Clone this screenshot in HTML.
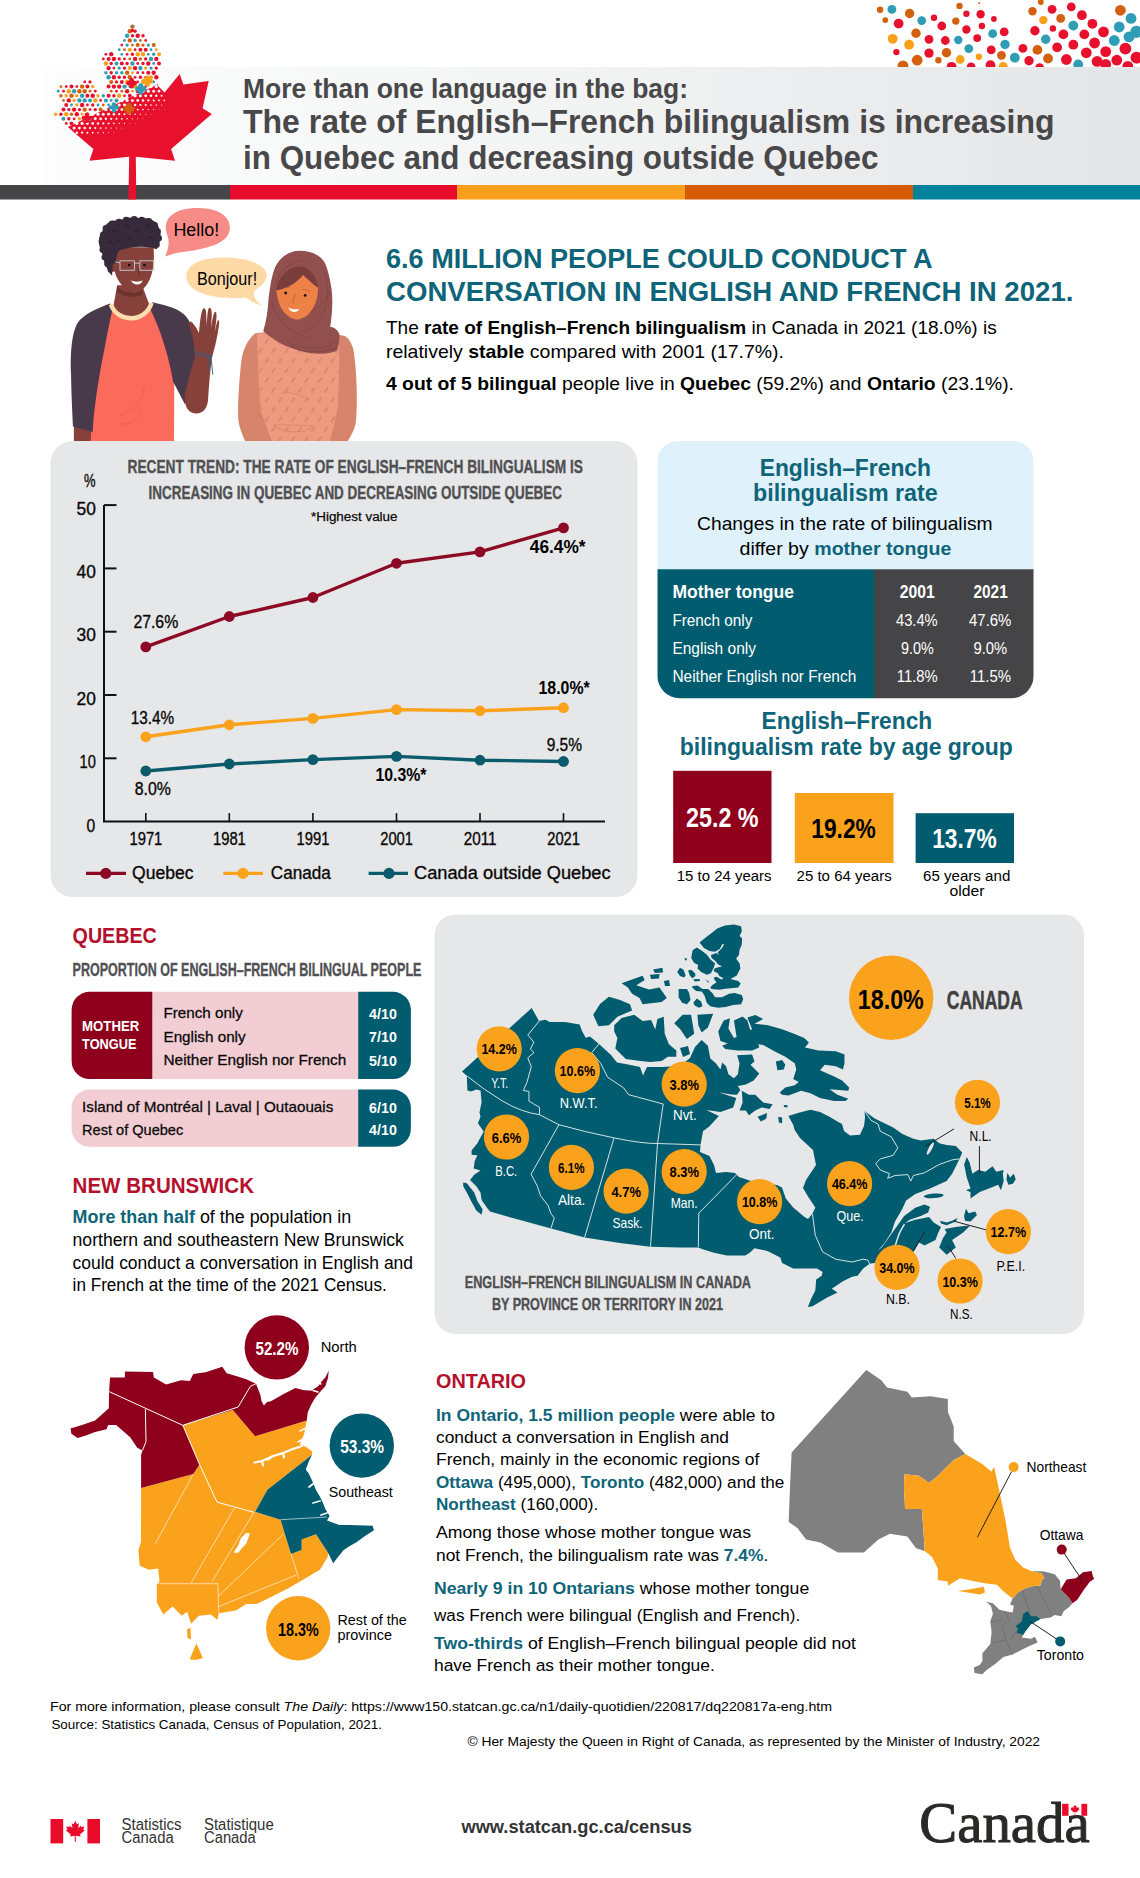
<!DOCTYPE html>
<html lang="en"><head><meta charset="utf-8"><title>More than one language in the bag</title>
<style>
html,body{margin:0;padding:0;background:#fff}
svg{display:block;font-family:"Liberation Sans",sans-serif}
text{white-space:pre}
</style></head><body>
<svg width="1140" height="1878" viewBox="0 0 1140 1878">
<rect width="1140" height="1878" fill="#fff"/>
<!-- p01_header -->
<circle cx="880.1" cy="9.8" r="3.2" fill="#d2600f"/><circle cx="891.9" cy="9.3" r="4.4" fill="#2f9db5"/><circle cx="909.6" cy="13.5" r="4.7" fill="#d2600f"/><circle cx="885.3" cy="20.1" r="2.9" fill="#d2600f"/><circle cx="898.6" cy="23.6" r="4.9" fill="#e8112d"/><circle cx="921.7" cy="20.6" r="4.4" fill="#2f9db5"/><circle cx="934.0" cy="17.7" r="3.2" fill="#e8112d"/><circle cx="959.5" cy="5.9" r="3.2" fill="#d2600f"/><circle cx="966.4" cy="13.8" r="3.2" fill="#e8112d"/><circle cx="955.8" cy="21.1" r="3.7" fill="#d2600f"/><circle cx="941.8" cy="26.0" r="4.4" fill="#e8112d"/><circle cx="980.6" cy="14.3" r="4.2" fill="#e8112d"/><circle cx="993.9" cy="18.9" r="2.9" fill="#e8112d"/><circle cx="981.9" cy="26.0" r="3.2" fill="#e8112d"/><circle cx="966.4" cy="29.5" r="4.2" fill="#e8112d"/><circle cx="916.0" cy="33.2" r="4.7" fill="#d2600f"/><circle cx="892.7" cy="38.8" r="4.9" fill="#f9a01b"/><circle cx="909.1" cy="44.7" r="4.9" fill="#f9a01b"/><circle cx="929.0" cy="39.3" r="4.4" fill="#e8112d"/><circle cx="945.3" cy="40.5" r="4.4" fill="#e8112d"/><circle cx="958.3" cy="40.0" r="4.2" fill="#2f9db5"/><circle cx="977.2" cy="38.1" r="3.9" fill="#e8112d"/><circle cx="992.7" cy="33.7" r="4.4" fill="#2f9db5"/><circle cx="1004.2" cy="31.9" r="4.4" fill="#e8112d"/><circle cx="1005.0" cy="44.5" r="4.7" fill="#2f9db5"/><circle cx="896.4" cy="52.1" r="3.2" fill="#e8112d"/><circle cx="929.0" cy="53.1" r="4.7" fill="#e8112d"/><circle cx="946.5" cy="52.8" r="4.7" fill="#d2600f"/><circle cx="968.8" cy="48.6" r="4.4" fill="#2f9db5"/><circle cx="991.2" cy="49.9" r="4.4" fill="#e8112d"/><circle cx="978.9" cy="56.8" r="3.2" fill="#f9a01b"/><circle cx="1001.5" cy="55.3" r="4.4" fill="#d2600f"/><circle cx="917.2" cy="60.2" r="5.4" fill="#d2600f"/><circle cx="938.4" cy="60.2" r="3.2" fill="#d2600f"/><circle cx="960.2" cy="59.5" r="4.4" fill="#f9a01b"/><circle cx="903.0" cy="65.8" r="5.4" fill="#d2600f"/><circle cx="951.6" cy="66.8" r="4.9" fill="#e8112d"/><circle cx="971.1" cy="66.8" r="4.4" fill="#e8112d"/><circle cx="990.5" cy="65.1" r="4.9" fill="#e8112d"/><circle cx="1003.2" cy="66.3" r="4.4" fill="#f9a01b"/><circle cx="1014.8" cy="57.7" r="4.9" fill="#2f9db5"/><circle cx="1022.9" cy="48.4" r="4.4" fill="#e8112d"/><circle cx="1029.0" cy="60.7" r="4.7" fill="#e8112d"/><circle cx="1037.4" cy="49.9" r="4.9" fill="#d2600f"/><circle cx="1048.0" cy="58.5" r="4.9" fill="#d2600f"/><circle cx="1039.6" cy="67.6" r="4.4" fill="#e8112d"/><circle cx="1040.8" cy="2.0" r="2.9" fill="#d2600f"/><circle cx="1032.5" cy="11.3" r="4.2" fill="#d2600f"/><circle cx="1052.1" cy="9.3" r="4.4" fill="#e8112d"/><circle cx="1071.3" cy="6.9" r="4.4" fill="#e8112d"/><circle cx="1043.3" cy="20.1" r="4.2" fill="#f9a01b"/><circle cx="1060.7" cy="18.4" r="4.4" fill="#d2600f"/><circle cx="1081.9" cy="15.2" r="4.9" fill="#e8112d"/><circle cx="1034.9" cy="30.7" r="4.7" fill="#e8112d"/><circle cx="1052.9" cy="28.5" r="3.2" fill="#e8112d"/><circle cx="1073.3" cy="25.6" r="4.9" fill="#2f9db5"/><circle cx="1092.4" cy="23.8" r="4.9" fill="#e8112d"/><circle cx="1063.4" cy="34.4" r="4.9" fill="#e8112d"/><circle cx="1045.7" cy="39.3" r="4.7" fill="#2f9db5"/><circle cx="1084.3" cy="34.4" r="4.9" fill="#e8112d"/><circle cx="1103.5" cy="31.9" r="5.4" fill="#e8112d"/><circle cx="1057.1" cy="47.4" r="4.9" fill="#e8112d"/><circle cx="1073.3" cy="44.7" r="4.9" fill="#e8112d"/><circle cx="1094.6" cy="43.0" r="5.4" fill="#e8112d"/><circle cx="1086.3" cy="52.8" r="5.4" fill="#e8112d"/><circle cx="1066.4" cy="59.5" r="5.4" fill="#e8112d"/><circle cx="1078.2" cy="64.4" r="4.9" fill="#2f9db5"/><circle cx="1105.7" cy="51.6" r="5.4" fill="#e8112d"/><circle cx="1097.1" cy="61.4" r="5.4" fill="#e8112d"/><circle cx="1116.8" cy="60.2" r="5.4" fill="#e8112d"/><circle cx="1105.7" cy="64.4" r="5.4" fill="#e8112d"/><circle cx="1120.4" cy="10.3" r="5.4" fill="#d2600f"/><circle cx="1131.0" cy="18.4" r="5.4" fill="#2f9db5"/><circle cx="1119.2" cy="27.0" r="5.4" fill="#2f9db5"/><circle cx="1136.4" cy="31.9" r="6.1" fill="#2f9db5"/><circle cx="1114.3" cy="40.5" r="5.4" fill="#2f9db5"/><circle cx="1129.0" cy="36.9" r="5.4" fill="#2f9db5"/><circle cx="1125.4" cy="48.6" r="5.9" fill="#e8112d"/><circle cx="1136.4" cy="57.7" r="5.9" fill="#e8112d"/><circle cx="1127.8" cy="66.3" r="5.4" fill="#e8112d"/><circle cx="979.2" cy="2.9" r="1.0" fill="#d2600f"/>
<defs><linearGradient id="bandg" x1="0" x2="1" y1="0" y2="0"><stop offset="0" stop-color="#fdfdfd"/><stop offset="0.45" stop-color="#f3f4f4"/><stop offset="1" stop-color="#e4e5e6"/></linearGradient></defs>
<rect x="43" y="67" width="1097" height="119" fill="url(#bandg)"/>
<rect x="0" y="185" width="230" height="14.5" fill="#454547"/><rect x="230" y="185" width="227" height="14.5" fill="#e80c2c"/><rect x="457" y="185" width="228" height="14.5" fill="#fa9f1c"/><rect x="685" y="185" width="228" height="14.5" fill="#d55b05"/><rect x="913" y="185" width="227" height="14.5" fill="#00819c"/>
<text x="243.0" y="98.0" font-size="28" font-weight="bold" fill="#48484a" textLength="445.0" lengthAdjust="spacingAndGlyphs">More than one language in the bag:</text>
<text x="243.0" y="133.4" font-size="33.5" font-weight="bold" fill="#48484a" textLength="811.5" lengthAdjust="spacingAndGlyphs">The rate of English–French bilingualism is increasing</text>
<text x="243.0" y="169.0" font-size="33.5" font-weight="bold" fill="#48484a" textLength="635.5" lengthAdjust="spacingAndGlyphs">in Quebec and decreasing outside Quebec</text>
<!-- p02_intro -->
<text x="386.0" y="268.3" font-size="27.5" font-weight="bold" fill="#0e6478" textLength="546.5" lengthAdjust="spacingAndGlyphs">6.6 MILLION PEOPLE COULD CONDUCT A</text>
<text x="386.0" y="300.7" font-size="27.5" font-weight="bold" fill="#0e6478" textLength="687.5" lengthAdjust="spacingAndGlyphs">CONVERSATION IN ENGLISH AND FRENCH IN 2021.</text>
<text x="386.0" y="334.0" font-size="19" textLength="610.7" lengthAdjust="spacingAndGlyphs">The <tspan font-weight="bold">rate of English–French bilingualism</tspan> in Canada in 2021 (18.0%) is</text>
<text x="386.0" y="358.3" font-size="19" textLength="398.0" lengthAdjust="spacingAndGlyphs">relatively <tspan font-weight="bold">stable</tspan> compared with 2001 (17.7%).</text>
<text x="386.0" y="390.0" font-size="19" textLength="628.0" lengthAdjust="spacingAndGlyphs"><tspan font-weight="bold">4 out of 5 bilingual</tspan> people live in <tspan font-weight="bold">Quebec</tspan> (59.2%) and <tspan font-weight="bold">Ontario</tspan> (23.1%).</text>
<!-- p03_leaf -->
<defs><clipPath id="leafclip"><polygon points="132.4,24.7 147.4,38.4 161.1,49.5 157.9,85.8 164.5,92.4 179.7,73.9 183.4,84.5 208.7,81.1 202.6,108.2 211.8,113.9 171.1,148.9 175.0,160.8 135.8,156.8 136.3,199.5 128.4,199.5 129.2,156.8 89.5,160.8 93.4,148.9 52.1,113.4 62.1,108.2 54.7,81.1 78.9,85.3 84.7,73.9 103.2,95.0 107.4,88.9 100.0,48.4 115.8,54.7"/></clipPath></defs>
<g clip-path="url(#leafclip)"><polygon points="258.7,36.3 -27.2,172.1 80.1,397.9 366.0,262.1" fill="#e8112d" />
</g>
<circle cx="132.4" cy="26.6" r="2.2" fill="#d2600f"/><circle cx="129.8" cy="31.2" r="2.2" fill="#d2600f"/><circle cx="135.1" cy="31.2" r="1.7" fill="#e8112d"/><circle cx="127.1" cy="35.8" r="2.2" fill="#2f9db5"/><circle cx="132.4" cy="35.8" r="1.7" fill="#e8112d"/><circle cx="137.7" cy="35.8" r="2.2" fill="#e8112d"/><circle cx="143.0" cy="35.8" r="1.7" fill="#e8112d"/><circle cx="124.5" cy="40.4" r="1.4" fill="#2f9db5"/><circle cx="129.8" cy="40.4" r="2.2" fill="#d2600f"/><circle cx="135.1" cy="40.4" r="1.7" fill="#2f9db5"/><circle cx="140.4" cy="40.4" r="1.4" fill="#d2600f"/><circle cx="145.7" cy="40.4" r="1.4" fill="#e8112d"/><circle cx="121.8" cy="45.1" r="1.4" fill="#e8112d"/><circle cx="127.1" cy="45.1" r="1.7" fill="#2f9db5"/><circle cx="132.4" cy="45.1" r="1.4" fill="#d2600f"/><circle cx="137.7" cy="45.1" r="2.0" fill="#d2600f"/><circle cx="143.0" cy="45.1" r="1.7" fill="#d2600f"/><circle cx="148.3" cy="45.1" r="1.7" fill="#2f9db5"/><circle cx="153.7" cy="45.1" r="2.0" fill="#d2600f"/><circle cx="119.2" cy="49.7" r="1.4" fill="#2f9db5"/><circle cx="124.5" cy="49.7" r="1.4" fill="#d2600f"/><circle cx="129.8" cy="49.7" r="2.0" fill="#f9a01b"/><circle cx="135.1" cy="49.7" r="1.4" fill="#e8112d"/><circle cx="140.4" cy="49.7" r="2.0" fill="#e8112d"/><circle cx="145.7" cy="49.7" r="2.0" fill="#e8112d"/><circle cx="151.0" cy="49.7" r="1.4" fill="#2f9db5"/><circle cx="156.3" cy="49.7" r="1.4" fill="#f9a01b"/><circle cx="105.9" cy="54.3" r="1.4" fill="#e8112d"/><circle cx="111.2" cy="54.3" r="2.2" fill="#e8112d"/><circle cx="121.8" cy="54.3" r="1.4" fill="#2f9db5"/><circle cx="127.1" cy="54.3" r="1.4" fill="#e8112d"/><circle cx="132.4" cy="54.3" r="1.7" fill="#e8112d"/><circle cx="137.7" cy="54.3" r="2.2" fill="#f9a01b"/><circle cx="143.0" cy="54.3" r="2.2" fill="#f9a01b"/><circle cx="148.3" cy="54.3" r="1.4" fill="#2f9db5"/><circle cx="153.7" cy="54.3" r="1.7" fill="#2f9db5"/><circle cx="159.0" cy="54.3" r="2.0" fill="#f9a01b"/><circle cx="103.3" cy="58.9" r="1.4" fill="#e8112d"/><circle cx="108.6" cy="58.9" r="2.0" fill="#e8112d"/><circle cx="113.9" cy="58.9" r="2.2" fill="#e8112d"/><circle cx="119.2" cy="58.9" r="1.7" fill="#e8112d"/><circle cx="124.5" cy="58.9" r="1.4" fill="#e8112d"/><circle cx="129.8" cy="58.9" r="1.4" fill="#d2600f"/><circle cx="135.1" cy="58.9" r="2.2" fill="#e8112d"/><circle cx="140.4" cy="58.9" r="1.7" fill="#d2600f"/><circle cx="145.7" cy="58.9" r="1.7" fill="#e8112d"/><circle cx="151.0" cy="58.9" r="2.2" fill="#2f9db5"/><circle cx="156.3" cy="58.9" r="2.2" fill="#e8112d"/><circle cx="105.9" cy="63.5" r="2.2" fill="#f9a01b"/><circle cx="111.2" cy="63.5" r="1.7" fill="#e8112d"/><circle cx="116.5" cy="63.5" r="2.0" fill="#2f9db5"/><circle cx="121.8" cy="63.5" r="2.0" fill="#e8112d"/><circle cx="127.1" cy="63.5" r="1.7" fill="#e8112d"/><circle cx="132.4" cy="63.5" r="2.2" fill="#2f9db5"/><circle cx="137.7" cy="63.5" r="1.4" fill="#e8112d"/><circle cx="143.0" cy="63.5" r="1.7" fill="#e8112d"/><circle cx="148.3" cy="63.5" r="2.2" fill="#e8112d"/><circle cx="153.7" cy="63.5" r="1.4" fill="#2f9db5"/><circle cx="159.0" cy="63.5" r="2.0" fill="#e8112d"/><circle cx="108.6" cy="68.1" r="2.2" fill="#e8112d"/><circle cx="113.9" cy="68.1" r="1.4" fill="#e8112d"/><circle cx="119.2" cy="68.1" r="1.7" fill="#2f9db5"/><circle cx="124.5" cy="68.1" r="1.7" fill="#e8112d"/><circle cx="129.8" cy="68.1" r="2.0" fill="#f9a01b"/><circle cx="135.1" cy="68.1" r="2.2" fill="#e8112d"/><circle cx="140.4" cy="68.1" r="2.2" fill="#2f9db5"/><circle cx="145.7" cy="68.1" r="1.7" fill="#f9a01b"/><circle cx="151.0" cy="68.1" r="1.7" fill="#2f9db5"/><circle cx="156.3" cy="68.1" r="1.7" fill="#e8112d"/><circle cx="105.9" cy="72.7" r="1.7" fill="#2f9db5"/><circle cx="111.2" cy="72.7" r="1.7" fill="#e8112d"/><circle cx="116.5" cy="72.7" r="1.7" fill="#2f9db5"/><circle cx="121.8" cy="72.7" r="1.7" fill="#2f9db5"/><circle cx="127.1" cy="72.7" r="2.2" fill="#d2600f"/><circle cx="132.4" cy="72.7" r="1.4" fill="#f9a01b"/><circle cx="137.7" cy="72.7" r="1.4" fill="#e8112d"/><circle cx="143.0" cy="72.7" r="1.4" fill="#e8112d"/><circle cx="148.3" cy="72.7" r="2.0" fill="#e8112d"/><circle cx="153.7" cy="72.7" r="2.2" fill="#e8112d"/><circle cx="108.6" cy="77.3" r="2.2" fill="#2f9db5"/><circle cx="113.9" cy="77.3" r="2.2" fill="#e8112d"/><circle cx="119.2" cy="77.3" r="1.7" fill="#e8112d"/><circle cx="124.5" cy="77.3" r="1.7" fill="#e8112d"/><circle cx="129.8" cy="77.3" r="2.2" fill="#d2600f"/><circle cx="135.1" cy="77.3" r="1.4" fill="#e8112d"/><circle cx="140.4" cy="77.3" r="1.7" fill="#e8112d"/><circle cx="145.7" cy="77.3" r="1.4" fill="#e8112d"/><circle cx="151.0" cy="77.3" r="2.0" fill="#f9a01b"/><circle cx="156.3" cy="77.3" r="2.2" fill="#e8112d"/><circle cx="84.7" cy="81.9" r="1.4" fill="#e8112d"/><circle cx="90.0" cy="81.9" r="1.7" fill="#e8112d"/><circle cx="111.2" cy="81.9" r="2.0" fill="#d2600f"/><circle cx="116.5" cy="81.9" r="1.7" fill="#e8112d"/><circle cx="121.8" cy="81.9" r="2.0" fill="#e8112d"/><circle cx="127.1" cy="81.9" r="2.2" fill="#f9a01b"/><circle cx="132.4" cy="81.9" r="1.7" fill="#2f9db5"/><circle cx="137.7" cy="81.9" r="1.4" fill="#e8112d"/><circle cx="143.0" cy="81.9" r="2.2" fill="#f9a01b"/><circle cx="148.3" cy="81.9" r="2.0" fill="#e8112d"/><circle cx="153.7" cy="81.9" r="1.4" fill="#2f9db5"/><circle cx="60.9" cy="86.6" r="1.4" fill="#d2600f"/><circle cx="66.2" cy="86.6" r="1.4" fill="#e8112d"/><circle cx="71.5" cy="86.6" r="2.0" fill="#e8112d"/><circle cx="76.8" cy="86.6" r="1.4" fill="#e8112d"/><circle cx="82.1" cy="86.6" r="2.2" fill="#d2600f"/><circle cx="87.4" cy="86.6" r="2.0" fill="#e8112d"/><circle cx="92.7" cy="86.6" r="1.7" fill="#f9a01b"/><circle cx="108.6" cy="86.6" r="2.0" fill="#e8112d"/><circle cx="113.9" cy="86.6" r="2.2" fill="#e8112d"/><circle cx="119.2" cy="86.6" r="2.2" fill="#e8112d"/><circle cx="124.5" cy="86.6" r="2.2" fill="#2f9db5"/><circle cx="129.8" cy="86.6" r="1.4" fill="#2f9db5"/><circle cx="135.1" cy="86.6" r="2.2" fill="#f9a01b"/><circle cx="140.4" cy="86.6" r="1.4" fill="#2f9db5"/><circle cx="145.7" cy="86.6" r="1.4" fill="#e8112d"/><circle cx="151.0" cy="86.6" r="1.74" fill="#fdfdfd"/><circle cx="156.3" cy="86.6" r="1.62" fill="#fdfdfd"/><circle cx="58.2" cy="91.2" r="1.4" fill="#2f9db5"/><circle cx="63.5" cy="91.2" r="1.4" fill="#e8112d"/><circle cx="68.8" cy="91.2" r="2.2" fill="#f9a01b"/><circle cx="74.1" cy="91.2" r="2.2" fill="#2f9db5"/><circle cx="79.4" cy="91.2" r="2.2" fill="#d2600f"/><circle cx="84.7" cy="91.2" r="2.2" fill="#d2600f"/><circle cx="90.0" cy="91.2" r="1.4" fill="#d2600f"/><circle cx="95.3" cy="91.2" r="1.4" fill="#e8112d"/><circle cx="111.2" cy="91.2" r="1.4" fill="#d2600f"/><circle cx="116.5" cy="91.2" r="1.4" fill="#e8112d"/><circle cx="121.8" cy="91.2" r="1.4" fill="#d2600f"/><circle cx="127.1" cy="91.2" r="2.2" fill="#e8112d"/><circle cx="132.4" cy="91.2" r="1.4" fill="#f9a01b"/><circle cx="137.7" cy="91.2" r="2.0" fill="#e8112d"/><circle cx="143.0" cy="91.2" r="1.70" fill="#fdfdfd"/><circle cx="148.3" cy="91.2" r="1.58" fill="#fdfdfd"/><circle cx="153.7" cy="91.2" r="1.46" fill="#fdfdfd"/><circle cx="159.0" cy="91.2" r="1.34" fill="#fdfdfd"/><circle cx="60.9" cy="95.8" r="1.7" fill="#d2600f"/><circle cx="66.2" cy="95.8" r="1.7" fill="#f9a01b"/><circle cx="71.5" cy="95.8" r="2.2" fill="#d2600f"/><circle cx="76.8" cy="95.8" r="1.7" fill="#f9a01b"/><circle cx="82.1" cy="95.8" r="2.2" fill="#2f9db5"/><circle cx="87.4" cy="95.8" r="2.0" fill="#e8112d"/><circle cx="92.7" cy="95.8" r="2.2" fill="#e8112d"/><circle cx="98.0" cy="95.8" r="1.7" fill="#f9a01b"/><circle cx="103.3" cy="95.8" r="1.7" fill="#2f9db5"/><circle cx="108.6" cy="95.8" r="2.0" fill="#e8112d"/><circle cx="113.9" cy="95.8" r="1.7" fill="#e8112d"/><circle cx="119.2" cy="95.8" r="2.2" fill="#f9a01b"/><circle cx="124.5" cy="95.8" r="1.4" fill="#e8112d"/><circle cx="129.8" cy="95.8" r="2.0" fill="#e8112d"/><circle cx="135.1" cy="95.8" r="1.66" fill="#fdfdfd"/><circle cx="140.4" cy="95.8" r="1.54" fill="#fdfdfd"/><circle cx="145.7" cy="95.8" r="1.42" fill="#fdfdfd"/><circle cx="151.0" cy="95.8" r="1.30" fill="#fdfdfd"/><circle cx="156.3" cy="95.8" r="1.18" fill="#fdfdfd"/><circle cx="161.6" cy="95.8" r="1.06" fill="#fdfdfd"/><circle cx="63.5" cy="100.4" r="1.4" fill="#d2600f"/><circle cx="68.8" cy="100.4" r="2.2" fill="#e8112d"/><circle cx="74.1" cy="100.4" r="1.7" fill="#f9a01b"/><circle cx="79.4" cy="100.4" r="2.2" fill="#2f9db5"/><circle cx="84.7" cy="100.4" r="2.2" fill="#2f9db5"/><circle cx="90.0" cy="100.4" r="2.0" fill="#2f9db5"/><circle cx="95.3" cy="100.4" r="2.2" fill="#f9a01b"/><circle cx="100.6" cy="100.4" r="1.4" fill="#e8112d"/><circle cx="105.9" cy="100.4" r="2.0" fill="#2f9db5"/><circle cx="111.2" cy="100.4" r="1.4" fill="#2f9db5"/><circle cx="116.5" cy="100.4" r="2.0" fill="#2f9db5"/><circle cx="121.8" cy="100.4" r="1.75" fill="#fdfdfd"/><circle cx="127.1" cy="100.4" r="1.62" fill="#fdfdfd"/><circle cx="132.4" cy="100.4" r="1.50" fill="#fdfdfd"/><circle cx="137.7" cy="100.4" r="1.38" fill="#fdfdfd"/><circle cx="143.0" cy="100.4" r="1.26" fill="#fdfdfd"/><circle cx="148.3" cy="100.4" r="1.14" fill="#fdfdfd"/><circle cx="153.7" cy="100.4" r="1.02" fill="#fdfdfd"/><circle cx="159.0" cy="100.4" r="0.90" fill="#fdfdfd"/><circle cx="164.3" cy="100.4" r="0.78" fill="#fdfdfd"/><circle cx="66.2" cy="105.0" r="2.0" fill="#e8112d"/><circle cx="71.5" cy="105.0" r="1.4" fill="#2f9db5"/><circle cx="76.8" cy="105.0" r="1.7" fill="#f9a01b"/><circle cx="82.1" cy="105.0" r="2.2" fill="#e8112d"/><circle cx="87.4" cy="105.0" r="1.4" fill="#e8112d"/><circle cx="92.7" cy="105.0" r="1.7" fill="#e8112d"/><circle cx="98.0" cy="105.0" r="1.4" fill="#2f9db5"/><circle cx="103.3" cy="105.0" r="1.4" fill="#d2600f"/><circle cx="108.6" cy="105.0" r="1.4" fill="#2f9db5"/><circle cx="113.9" cy="105.0" r="1.71" fill="#fdfdfd"/><circle cx="119.2" cy="105.0" r="1.58" fill="#fdfdfd"/><circle cx="124.5" cy="105.0" r="1.46" fill="#fdfdfd"/><circle cx="129.8" cy="105.0" r="1.34" fill="#fdfdfd"/><circle cx="135.1" cy="105.0" r="1.22" fill="#fdfdfd"/><circle cx="140.4" cy="105.0" r="1.10" fill="#fdfdfd"/><circle cx="145.7" cy="105.0" r="0.98" fill="#fdfdfd"/><circle cx="151.0" cy="105.0" r="0.86" fill="#fdfdfd"/><circle cx="156.3" cy="105.0" r="0.74" fill="#fdfdfd"/><circle cx="161.6" cy="105.0" r="0.62" fill="#fdfdfd"/><circle cx="63.5" cy="109.6" r="2.0" fill="#e8112d"/><circle cx="68.8" cy="109.6" r="1.7" fill="#e8112d"/><circle cx="74.1" cy="109.6" r="2.2" fill="#e8112d"/><circle cx="79.4" cy="109.6" r="1.7" fill="#e8112d"/><circle cx="84.7" cy="109.6" r="2.2" fill="#d2600f"/><circle cx="90.0" cy="109.6" r="1.4" fill="#e8112d"/><circle cx="95.3" cy="109.6" r="1.7" fill="#e8112d"/><circle cx="100.6" cy="109.6" r="2.0" fill="#d2600f"/><circle cx="105.9" cy="109.6" r="1.67" fill="#fdfdfd"/><circle cx="111.2" cy="109.6" r="1.54" fill="#fdfdfd"/><circle cx="116.5" cy="109.6" r="1.42" fill="#fdfdfd"/><circle cx="121.8" cy="109.6" r="1.30" fill="#fdfdfd"/><circle cx="127.1" cy="109.6" r="1.18" fill="#fdfdfd"/><circle cx="132.4" cy="109.6" r="1.06" fill="#fdfdfd"/><circle cx="137.7" cy="109.6" r="0.94" fill="#fdfdfd"/><circle cx="143.0" cy="109.6" r="0.82" fill="#fdfdfd"/><circle cx="148.3" cy="109.6" r="0.70" fill="#fdfdfd"/><circle cx="153.7" cy="109.6" r="0.58" fill="#fdfdfd"/><circle cx="159.0" cy="109.6" r="0.46" fill="#fdfdfd"/><circle cx="164.3" cy="109.6" r="0.34" fill="#fdfdfd"/><circle cx="55.6" cy="114.2" r="1.7" fill="#f9a01b"/><circle cx="60.9" cy="114.2" r="1.7" fill="#e8112d"/><circle cx="66.2" cy="114.2" r="2.2" fill="#f9a01b"/><circle cx="71.5" cy="114.2" r="1.7" fill="#d2600f"/><circle cx="76.8" cy="114.2" r="2.2" fill="#e8112d"/><circle cx="82.1" cy="114.2" r="1.4" fill="#f9a01b"/><circle cx="87.4" cy="114.2" r="2.0" fill="#d2600f"/><circle cx="92.7" cy="114.2" r="1.75" fill="#fdfdfd"/><circle cx="98.0" cy="114.2" r="1.63" fill="#fdfdfd"/><circle cx="103.3" cy="114.2" r="1.50" fill="#fdfdfd"/><circle cx="108.6" cy="114.2" r="1.38" fill="#fdfdfd"/><circle cx="113.9" cy="114.2" r="1.26" fill="#fdfdfd"/><circle cx="119.2" cy="114.2" r="1.14" fill="#fdfdfd"/><circle cx="124.5" cy="114.2" r="1.02" fill="#fdfdfd"/><circle cx="129.8" cy="114.2" r="0.90" fill="#fdfdfd"/><circle cx="135.1" cy="114.2" r="0.78" fill="#fdfdfd"/><circle cx="140.4" cy="114.2" r="0.66" fill="#fdfdfd"/><circle cx="145.7" cy="114.2" r="0.54" fill="#fdfdfd"/><circle cx="151.0" cy="114.2" r="0.42" fill="#fdfdfd"/><circle cx="63.5" cy="118.8" r="2.0" fill="#2f9db5"/><circle cx="68.8" cy="118.8" r="1.7" fill="#e8112d"/><circle cx="74.1" cy="118.8" r="1.4" fill="#e8112d"/><circle cx="79.4" cy="118.8" r="1.7" fill="#f9a01b"/><circle cx="84.7" cy="118.8" r="1.71" fill="#fdfdfd"/><circle cx="90.0" cy="118.8" r="1.59" fill="#fdfdfd"/><circle cx="95.3" cy="118.8" r="1.46" fill="#fdfdfd"/><circle cx="100.6" cy="118.8" r="1.34" fill="#fdfdfd"/><circle cx="105.9" cy="118.8" r="1.22" fill="#fdfdfd"/><circle cx="111.2" cy="118.8" r="1.10" fill="#fdfdfd"/><circle cx="116.5" cy="118.8" r="0.98" fill="#fdfdfd"/><circle cx="121.8" cy="118.8" r="0.86" fill="#fdfdfd"/><circle cx="127.1" cy="118.8" r="0.74" fill="#fdfdfd"/><circle cx="132.4" cy="118.8" r="0.62" fill="#fdfdfd"/><circle cx="137.7" cy="118.8" r="0.50" fill="#fdfdfd"/><circle cx="143.0" cy="118.8" r="0.38" fill="#fdfdfd"/><circle cx="66.2" cy="123.4" r="1.4" fill="#e8112d"/><circle cx="71.5" cy="123.4" r="2.0" fill="#e8112d"/><circle cx="76.8" cy="123.4" r="1.67" fill="#fdfdfd"/><circle cx="82.1" cy="123.4" r="1.55" fill="#fdfdfd"/><circle cx="87.4" cy="123.4" r="1.42" fill="#fdfdfd"/><circle cx="92.7" cy="123.4" r="1.30" fill="#fdfdfd"/><circle cx="98.0" cy="123.4" r="1.18" fill="#fdfdfd"/><circle cx="103.3" cy="123.4" r="1.06" fill="#fdfdfd"/><circle cx="108.6" cy="123.4" r="0.94" fill="#fdfdfd"/><circle cx="113.9" cy="123.4" r="0.82" fill="#fdfdfd"/><circle cx="119.2" cy="123.4" r="0.70" fill="#fdfdfd"/><circle cx="124.5" cy="123.4" r="0.58" fill="#fdfdfd"/><circle cx="129.8" cy="123.4" r="0.46" fill="#fdfdfd"/><circle cx="135.1" cy="123.4" r="0.34" fill="#fdfdfd"/><circle cx="74.1" cy="128.1" r="1.50" fill="#fdfdfd"/><circle cx="79.4" cy="128.1" r="1.38" fill="#fdfdfd"/><circle cx="84.7" cy="128.1" r="1.26" fill="#fdfdfd"/><circle cx="90.0" cy="128.1" r="1.14" fill="#fdfdfd"/><circle cx="95.3" cy="128.1" r="1.02" fill="#fdfdfd"/><circle cx="100.6" cy="128.1" r="0.90" fill="#fdfdfd"/><circle cx="105.9" cy="128.1" r="0.78" fill="#fdfdfd"/><circle cx="111.2" cy="128.1" r="0.66" fill="#fdfdfd"/><circle cx="116.5" cy="128.1" r="0.54" fill="#fdfdfd"/><circle cx="121.8" cy="128.1" r="0.42" fill="#fdfdfd"/><circle cx="76.8" cy="132.7" r="1.22" fill="#fdfdfd"/><circle cx="82.1" cy="132.7" r="1.10" fill="#fdfdfd"/><circle cx="87.4" cy="132.7" r="0.98" fill="#fdfdfd"/><circle cx="92.7" cy="132.7" r="0.86" fill="#fdfdfd"/><circle cx="98.0" cy="132.7" r="0.74" fill="#fdfdfd"/><circle cx="103.3" cy="132.7" r="0.62" fill="#fdfdfd"/><circle cx="108.6" cy="132.7" r="0.50" fill="#fdfdfd"/><circle cx="113.9" cy="132.7" r="0.38" fill="#fdfdfd"/>
<circle cx="140.8" cy="88.9" r="2.6" fill="#2f9db5"/><circle cx="143.8" cy="88.9" r="2.6" fill="#2f9db5"/><circle cx="137.8" cy="88.9" r="2.6" fill="#2f9db5"/><circle cx="140.8" cy="91.9" r="2.6" fill="#2f9db5"/><circle cx="140.8" cy="85.9" r="2.6" fill="#2f9db5"/><circle cx="147.4" cy="81.1" r="2.6" fill="#f9a01b"/><circle cx="150.4" cy="81.1" r="2.6" fill="#f9a01b"/><circle cx="144.4" cy="81.1" r="2.6" fill="#f9a01b"/><circle cx="147.4" cy="84.1" r="2.6" fill="#f9a01b"/><circle cx="147.4" cy="78.1" r="2.6" fill="#f9a01b"/><circle cx="113.9" cy="107.4" r="2.2" fill="#2f9db5"/><circle cx="116.9" cy="107.4" r="2.2" fill="#2f9db5"/><circle cx="110.9" cy="107.4" r="2.2" fill="#2f9db5"/><circle cx="113.9" cy="110.4" r="2.2" fill="#2f9db5"/><circle cx="113.9" cy="104.4" r="2.2" fill="#2f9db5"/><circle cx="128.9" cy="108.7" r="2.8" fill="#d2600f"/><circle cx="131.9" cy="108.7" r="2.8" fill="#d2600f"/><circle cx="125.9" cy="108.7" r="2.8" fill="#d2600f"/><circle cx="128.9" cy="111.7" r="2.8" fill="#d2600f"/><circle cx="128.9" cy="105.7" r="2.8" fill="#d2600f"/><circle cx="131.6" cy="83.2" r="2.4" fill="#e8112d"/><circle cx="134.6" cy="83.2" r="2.4" fill="#e8112d"/><circle cx="128.6" cy="83.2" r="2.4" fill="#e8112d"/><circle cx="131.6" cy="86.2" r="2.4" fill="#e8112d"/><circle cx="131.6" cy="80.2" r="2.4" fill="#e8112d"/><circle cx="86.8" cy="117.9" r="2.2" fill="#e8112d"/><circle cx="89.8" cy="117.9" r="2.2" fill="#e8112d"/><circle cx="83.8" cy="117.9" r="2.2" fill="#e8112d"/><circle cx="86.8" cy="120.9" r="2.2" fill="#e8112d"/><circle cx="86.8" cy="114.9" r="2.2" fill="#e8112d"/>
<circle cx="132.4" cy="30.5" r="1.8" fill="#e8112d"/><circle cx="132.4" cy="26.3" r="1" fill="#2f9db5"/>
<!-- p04_people -->
<g transform="translate(60,200) scale(0.15789)">
<path d="M88,1430 L205,1465 L198,1530 L88,1530 Z" fill="#86413a"/>
<path d="M325,690 C400,765 500,765 578,690 C655,835 705,1005 724,1150 L722,1530 L195,1530 C200,1350 250,1050 325,690 Z" fill="#fb6b5c"/>
<path d="M318,655 C250,680 150,720 110,780 C70,850 65,1000 70,1100 C72,1250 80,1380 82,1435 L207,1470 C215,1300 250,1100 290,900 C305,820 320,740 332,700 Z" fill="#48394b"/>
<path d="M583,648 C680,670 760,690 800,740 C840,790 860,880 864,960 C850,1050 815,1200 792,1295 L716,1150 C692,1000 640,830 572,690 Z" fill="#48394b"/>
<path d="M856,985 C830,1080 800,1180 790,1240 C785,1300 810,1352 860,1352 C915,1352 935,1310 938,1260 C945,1150 955,1050 964,985 Z" fill="#86413a"/>
<path d="M855,992 C850,930 845,880 830,830 C820,800 813,780 822,770 C835,765 860,800 880,842 C885,790 890,720 905,690 C915,680 925,690 926,720 L929,800 C932,740 935,690 945,682 C958,680 963,700 961,740 L956,812 C965,760 972,715 982,708 C993,708 993,730 989,770 L979,842 C988,800 995,765 1003,760 C1011,762 1009,790 1001,830 C990,900 976,950 964,992 Z" fill="#86413a"/>
<path d="M880,842 C890,860 900,870 908,880" stroke="#6f332f" stroke-width="3" fill="none"/>
<path d="M855,962 L966,984 M855,978 L962,998 M946,990 L941,1082 M956,992 L968,1106" stroke="#3b5a80" stroke-width="6" fill="none"/>
<path d="M362,540 L335,690 C400,775 520,775 568,670 L520,540 Z" fill="#86413a"/>
<path d="M362,545 C400,590 480,600 520,560 L522,600 C480,625 410,615 362,585 Z" fill="#6f332f"/>
<path d="M322,660 C365,780 540,780 580,652" stroke="#fddcb0" stroke-width="28" fill="none"/>
<ellipse cx="340" cy="425" rx="20" ry="30" fill="#86413a"/>
<path d="M332,300 L592,300 C600,380 590,470 560,520 C535,565 500,592 470,590 C430,585 380,540 355,480 C340,440 334,380 332,300 Z" fill="#86413a"/>
<path d="M330,480 C300,450 270,380 265,325 C238,285 240,230 268,200 C280,150 330,118 372,133 C420,103 480,108 520,118 C570,108 622,140 630,190 C647,230 632,280 612,312 C560,290 450,290 372,322 C357,350 352,380 354,402 C346,394 334,400 332,425 Z" fill="#372a3a"/>
<circle cx="275" cy="222" r="22" fill="#372a3a"/><circle cx="292" cy="180" r="22" fill="#372a3a"/><circle cx="330" cy="152" r="22" fill="#372a3a"/><circle cx="374" cy="140" r="22" fill="#372a3a"/><circle cx="420" cy="128" r="22" fill="#372a3a"/><circle cx="470" cy="124" r="22" fill="#372a3a"/><circle cx="518" cy="128" r="22" fill="#372a3a"/><circle cx="562" cy="136" r="22" fill="#372a3a"/><circle cx="598" cy="160" r="22" fill="#372a3a"/><circle cx="618" cy="200" r="21" fill="#372a3a"/><circle cx="626" cy="242" r="20" fill="#372a3a"/><circle cx="614" cy="284" r="18" fill="#372a3a"/><circle cx="266" cy="265" r="21" fill="#372a3a"/><circle cx="270" cy="315" r="20" fill="#372a3a"/><circle cx="282" cy="362" r="19" fill="#372a3a"/><circle cx="298" cy="405" r="18" fill="#372a3a"/><circle cx="318" cy="445" r="16" fill="#372a3a"/>
<path d="M330,200 C345,185 360,190 365,205 M400,165 C415,150 432,158 430,175 M470,200 C490,185 505,195 500,212 M540,165 C555,155 570,165 565,180 M560,240 C575,230 590,240 585,255 M300,270 C315,258 330,265 328,280 M420,240 C435,228 450,235 448,250 M360,260 C372,250 385,256 383,268" stroke="#1d141f" stroke-width="4" fill="none"/>
<g stroke="#c5c6cf" stroke-width="6" fill="none"><rect x="380" y="385" width="92" height="60"/><rect x="506" y="385" width="88" height="60"/><path d="M472,400 L506,400 M350,392 L380,398"/></g>
<circle cx="438" cy="412" r="9" fill="#1a1015"/><circle cx="535" cy="412" r="9" fill="#1a1015"/>
<path d="M498,432 C494,460 500,476 507,482" stroke="#5e2a28" stroke-width="4" fill="none"/>
<path d="M448,508 C470,520 500,520 524,510 C515,540 468,548 448,508 Z" fill="#fff"/>
<path d="M536,1180 C520,1280 450,1340 365,1370 M512,1345 C480,1400 430,1422 380,1420" stroke="#dd5347" stroke-width="3" fill="none"/>
</g>
<defs><clipPath id="gpanel"><path d="M262,740 C270,900 275,1100 290,1290 C310,1350 350,1450 385,1540 L770,1540 C800,1450 830,1330 840,1250 C850,1100 850,900 850,780 L600,720 Z"/></clipPath></defs>
<g transform="translate(220,230) scale(0.14035)">
<path d="M250,735 C190,790 160,860 150,950 C135,1100 125,1250 130,1350 C140,1420 165,1470 195,1540 L890,1540 C930,1470 965,1420 970,1350 C980,1200 975,1000 950,850 C935,800 915,770 890,755 L600,700 Z" fill="#d6846b"/>
<path d="M262,740 C270,900 275,1100 290,1290 C310,1350 350,1450 385,1540 L770,1540 C800,1450 830,1330 840,1250 C850,1100 850,900 850,780 L600,720 Z" fill="#ee9a7e"/>
<g clip-path="url(#gpanel)" fill="#d98a70"><ellipse cx="240" cy="790" rx="24" ry="8" transform="rotate(-55 240 790)"/><ellipse cx="334" cy="790" rx="24" ry="8" transform="rotate(-55 334 790)"/><ellipse cx="428" cy="790" rx="24" ry="8" transform="rotate(-55 428 790)"/><ellipse cx="522" cy="790" rx="24" ry="8" transform="rotate(-55 522 790)"/><ellipse cx="616" cy="790" rx="24" ry="8" transform="rotate(-55 616 790)"/><ellipse cx="710" cy="790" rx="24" ry="8" transform="rotate(-55 710 790)"/><ellipse cx="804" cy="790" rx="24" ry="8" transform="rotate(-55 804 790)"/><ellipse cx="287" cy="860" rx="24" ry="8" transform="rotate(-55 287 860)"/><ellipse cx="381" cy="860" rx="24" ry="8" transform="rotate(-55 381 860)"/><ellipse cx="475" cy="860" rx="24" ry="8" transform="rotate(-55 475 860)"/><ellipse cx="569" cy="860" rx="24" ry="8" transform="rotate(-55 569 860)"/><ellipse cx="663" cy="860" rx="24" ry="8" transform="rotate(-55 663 860)"/><ellipse cx="757" cy="860" rx="24" ry="8" transform="rotate(-55 757 860)"/><ellipse cx="851" cy="860" rx="24" ry="8" transform="rotate(-55 851 860)"/><ellipse cx="240" cy="930" rx="24" ry="8" transform="rotate(-55 240 930)"/><ellipse cx="334" cy="930" rx="24" ry="8" transform="rotate(-55 334 930)"/><ellipse cx="428" cy="930" rx="24" ry="8" transform="rotate(-55 428 930)"/><ellipse cx="522" cy="930" rx="24" ry="8" transform="rotate(-55 522 930)"/><ellipse cx="616" cy="930" rx="24" ry="8" transform="rotate(-55 616 930)"/><ellipse cx="710" cy="930" rx="24" ry="8" transform="rotate(-55 710 930)"/><ellipse cx="804" cy="930" rx="24" ry="8" transform="rotate(-55 804 930)"/><ellipse cx="287" cy="1000" rx="24" ry="8" transform="rotate(-55 287 1000)"/><ellipse cx="381" cy="1000" rx="24" ry="8" transform="rotate(-55 381 1000)"/><ellipse cx="475" cy="1000" rx="24" ry="8" transform="rotate(-55 475 1000)"/><ellipse cx="569" cy="1000" rx="24" ry="8" transform="rotate(-55 569 1000)"/><ellipse cx="663" cy="1000" rx="24" ry="8" transform="rotate(-55 663 1000)"/><ellipse cx="757" cy="1000" rx="24" ry="8" transform="rotate(-55 757 1000)"/><ellipse cx="851" cy="1000" rx="24" ry="8" transform="rotate(-55 851 1000)"/><ellipse cx="240" cy="1070" rx="24" ry="8" transform="rotate(-55 240 1070)"/><ellipse cx="334" cy="1070" rx="24" ry="8" transform="rotate(-55 334 1070)"/><ellipse cx="428" cy="1070" rx="24" ry="8" transform="rotate(-55 428 1070)"/><ellipse cx="522" cy="1070" rx="24" ry="8" transform="rotate(-55 522 1070)"/><ellipse cx="616" cy="1070" rx="24" ry="8" transform="rotate(-55 616 1070)"/><ellipse cx="710" cy="1070" rx="24" ry="8" transform="rotate(-55 710 1070)"/><ellipse cx="804" cy="1070" rx="24" ry="8" transform="rotate(-55 804 1070)"/><ellipse cx="287" cy="1140" rx="24" ry="8" transform="rotate(-55 287 1140)"/><ellipse cx="381" cy="1140" rx="24" ry="8" transform="rotate(-55 381 1140)"/><ellipse cx="475" cy="1140" rx="24" ry="8" transform="rotate(-55 475 1140)"/><ellipse cx="569" cy="1140" rx="24" ry="8" transform="rotate(-55 569 1140)"/><ellipse cx="663" cy="1140" rx="24" ry="8" transform="rotate(-55 663 1140)"/><ellipse cx="757" cy="1140" rx="24" ry="8" transform="rotate(-55 757 1140)"/><ellipse cx="851" cy="1140" rx="24" ry="8" transform="rotate(-55 851 1140)"/><ellipse cx="240" cy="1210" rx="24" ry="8" transform="rotate(-55 240 1210)"/><ellipse cx="334" cy="1210" rx="24" ry="8" transform="rotate(-55 334 1210)"/><ellipse cx="428" cy="1210" rx="24" ry="8" transform="rotate(-55 428 1210)"/><ellipse cx="522" cy="1210" rx="24" ry="8" transform="rotate(-55 522 1210)"/><ellipse cx="616" cy="1210" rx="24" ry="8" transform="rotate(-55 616 1210)"/><ellipse cx="710" cy="1210" rx="24" ry="8" transform="rotate(-55 710 1210)"/><ellipse cx="804" cy="1210" rx="24" ry="8" transform="rotate(-55 804 1210)"/><ellipse cx="287" cy="1280" rx="24" ry="8" transform="rotate(-55 287 1280)"/><ellipse cx="381" cy="1280" rx="24" ry="8" transform="rotate(-55 381 1280)"/><ellipse cx="475" cy="1280" rx="24" ry="8" transform="rotate(-55 475 1280)"/><ellipse cx="569" cy="1280" rx="24" ry="8" transform="rotate(-55 569 1280)"/><ellipse cx="663" cy="1280" rx="24" ry="8" transform="rotate(-55 663 1280)"/><ellipse cx="757" cy="1280" rx="24" ry="8" transform="rotate(-55 757 1280)"/><ellipse cx="851" cy="1280" rx="24" ry="8" transform="rotate(-55 851 1280)"/><ellipse cx="240" cy="1350" rx="24" ry="8" transform="rotate(-55 240 1350)"/><ellipse cx="334" cy="1350" rx="24" ry="8" transform="rotate(-55 334 1350)"/><ellipse cx="428" cy="1350" rx="24" ry="8" transform="rotate(-55 428 1350)"/><ellipse cx="522" cy="1350" rx="24" ry="8" transform="rotate(-55 522 1350)"/><ellipse cx="616" cy="1350" rx="24" ry="8" transform="rotate(-55 616 1350)"/><ellipse cx="710" cy="1350" rx="24" ry="8" transform="rotate(-55 710 1350)"/><ellipse cx="804" cy="1350" rx="24" ry="8" transform="rotate(-55 804 1350)"/><ellipse cx="287" cy="1420" rx="24" ry="8" transform="rotate(-55 287 1420)"/><ellipse cx="381" cy="1420" rx="24" ry="8" transform="rotate(-55 381 1420)"/><ellipse cx="475" cy="1420" rx="24" ry="8" transform="rotate(-55 475 1420)"/><ellipse cx="569" cy="1420" rx="24" ry="8" transform="rotate(-55 569 1420)"/><ellipse cx="663" cy="1420" rx="24" ry="8" transform="rotate(-55 663 1420)"/><ellipse cx="757" cy="1420" rx="24" ry="8" transform="rotate(-55 757 1420)"/><ellipse cx="851" cy="1420" rx="24" ry="8" transform="rotate(-55 851 1420)"/><ellipse cx="240" cy="1490" rx="24" ry="8" transform="rotate(-55 240 1490)"/><ellipse cx="334" cy="1490" rx="24" ry="8" transform="rotate(-55 334 1490)"/><ellipse cx="428" cy="1490" rx="24" ry="8" transform="rotate(-55 428 1490)"/><ellipse cx="522" cy="1490" rx="24" ry="8" transform="rotate(-55 522 1490)"/><ellipse cx="616" cy="1490" rx="24" ry="8" transform="rotate(-55 616 1490)"/><ellipse cx="710" cy="1490" rx="24" ry="8" transform="rotate(-55 710 1490)"/><ellipse cx="804" cy="1490" rx="24" ry="8" transform="rotate(-55 804 1490)"/></g>
<path d="M440,1160 C500,1150 590,1180 640,1215 M380,1390 C450,1380 580,1400 660,1392 C640,1445 480,1462 380,1390 M270,1300 C290,1330 310,1350 330,1360 M865,1300 C845,1320 825,1335 810,1340" stroke="#c2705a" stroke-width="3" fill="none"/>
<path d="M570,148 C500,145 430,190 395,260 C365,330 355,420 345,500 C340,580 330,650 308,720 C380,790 480,840 600,870 C700,890 780,880 832,862 C850,820 855,770 848,735 C830,705 805,690 785,690 C800,600 805,500 795,420 C780,320 760,250 735,215 C690,165 630,148 570,148 Z" fill="#91504e"/>
<path d="M402,432 C410,340 480,265 565,258 C640,265 690,330 700,412 C660,380 620,340 590,320 C540,380 470,420 402,432 Z" fill="#7a3d3b"/>
<path d="M402,430 C470,420 545,380 592,320 C620,350 660,385 698,412 C700,480 680,540 640,590 C610,625 570,640 540,638 C490,630 440,580 420,520 C410,490 404,460 402,430 Z" fill="#ee8146"/>
<circle cx="468" cy="449" r="10" fill="#1a1015"/><circle cx="607" cy="466" r="10" fill="#1a1015"/>
<path d="M535,460 C527,490 517,510 522,522 M445,415 C460,405 480,405 495,412 M585,425 C605,422 625,428 640,440" stroke="#9a4a35" stroke-width="4" fill="none"/>
<path d="M486,552 C510,566 540,569 564,561 C552,594 504,594 486,552 Z" fill="#fff"/>
<path d="M478,800 C580,850 720,862 822,800 M500,830 C600,875 740,880 830,835 M605,212 C500,225 420,290 400,380 M745,300 C790,450 780,620 600,730 M370,520 C400,640 500,740 640,770 M640,590 C700,560 760,500 790,420" stroke="#6e3838" stroke-width="3" fill="none"/>
</g>
<path d="M165.2,256.6 C168,249 170,243 167.5,236 C160,216 178,207.5 199,208 C222,208.5 232,219 229.5,231 C227,244 205,249 186,251.5 C178,252.5 171,254 165.2,256.6 Z" fill="#f78b88"/>
<text x="173.4" y="235.5" font-size="18" textLength="45.8" lengthAdjust="spacingAndGlyphs">Hello!</text>
<path d="M262.6,305.8 C255,304 250,300 246,297.5 C225,300 190,296 186.5,279 C184,263 205,256.5 228,257.5 C252,258.5 268,266 266.5,277 C265.5,284 257,288 254,292 C253,297 257,302 262.6,305.8 Z" fill="#fdd9a5"/>
<text x="197.0" y="284.6" font-size="18" textLength="60.2" lengthAdjust="spacingAndGlyphs">Bonjour!</text>
<!-- p05_chart -->
<rect x="50.5" y="441" width="587" height="456" rx="22" ry="22" fill="#e6e7e8"/>
<text x="127.5" y="473.4" font-size="18" font-weight="bold" fill="#505053" stroke="#505053" stroke-width="0.35" textLength="455.5" lengthAdjust="spacingAndGlyphs">RECENT TREND: THE RATE OF ENGLISH–FRENCH BILINGUALISM IS</text>
<text x="148.6" y="499.0" font-size="18" font-weight="bold" fill="#505053" stroke="#505053" stroke-width="0.35" textLength="413.4" lengthAdjust="spacingAndGlyphs">INCREASING IN QUEBEC AND DECREASING OUTSIDE QUEBEC</text>
<text x="311.0" y="520.8" font-size="12.5" stroke="#231f20" stroke-width="0.25" textLength="86.5" lengthAdjust="spacingAndGlyphs">*Highest value</text>
<path d="M104,505.1 L104,821.6 L605,821.6" stroke="#111" stroke-width="2" fill="none"/>
<path d="M104,758.3 L116.5,758.3" stroke="#111" stroke-width="2"/><path d="M104,695.0 L116.5,695.0" stroke="#111" stroke-width="2"/><path d="M104,631.7 L116.5,631.7" stroke="#111" stroke-width="2"/><path d="M104,568.4 L116.5,568.4" stroke="#111" stroke-width="2"/><path d="M104,505.1 L116.5,505.1" stroke="#111" stroke-width="2"/><path d="M145.8,821.6 L145.8,813.1" stroke="#111" stroke-width="1.6"/><path d="M229.3,821.6 L229.3,813.1" stroke="#111" stroke-width="1.6"/><path d="M312.9,821.6 L312.9,813.1" stroke="#111" stroke-width="1.6"/><path d="M396.5,821.6 L396.5,813.1" stroke="#111" stroke-width="1.6"/><path d="M480.0,821.6 L480.0,813.1" stroke="#111" stroke-width="1.6"/><path d="M563.5,821.6 L563.5,813.1" stroke="#111" stroke-width="1.6"/>
<text x="84.0" y="486.6" font-size="18.5" stroke="#231f20" stroke-width="0.4" textLength="11.5" lengthAdjust="spacingAndGlyphs">%</text>
<text x="76.5" y="514.6" font-size="18.5" stroke="#231f20" stroke-width="0.4" textLength="19.3" lengthAdjust="spacingAndGlyphs">50</text>
<text x="76.5" y="577.9" font-size="18.5" stroke="#231f20" stroke-width="0.4" textLength="19.3" lengthAdjust="spacingAndGlyphs">40</text>
<text x="76.5" y="641.2" font-size="18.5" stroke="#231f20" stroke-width="0.4" textLength="19.3" lengthAdjust="spacingAndGlyphs">30</text>
<text x="76.5" y="704.5" font-size="18.5" stroke="#231f20" stroke-width="0.4" textLength="19.3" lengthAdjust="spacingAndGlyphs">20</text>
<text x="79.5" y="767.8" font-size="18.5" stroke="#231f20" stroke-width="0.4" textLength="16.3" lengthAdjust="spacingAndGlyphs">10</text>
<text x="86.6" y="831.5" font-size="18.5" stroke="#231f20" stroke-width="0.4" textLength="8.7" lengthAdjust="spacingAndGlyphs">0</text>
<text x="129.5" y="845.3" font-size="18" stroke="#231f20" stroke-width="0.4" textLength="32.8" lengthAdjust="spacingAndGlyphs">1971</text>
<text x="213.0" y="845.3" font-size="18" stroke="#231f20" stroke-width="0.4" textLength="32.8" lengthAdjust="spacingAndGlyphs">1981</text>
<text x="296.6" y="845.3" font-size="18" stroke="#231f20" stroke-width="0.4" textLength="32.8" lengthAdjust="spacingAndGlyphs">1991</text>
<text x="380.2" y="845.3" font-size="18" stroke="#231f20" stroke-width="0.4" textLength="32.8" lengthAdjust="spacingAndGlyphs">2001</text>
<text x="463.7" y="845.3" font-size="18" stroke="#231f20" stroke-width="0.4" textLength="32.8" lengthAdjust="spacingAndGlyphs">2011</text>
<text x="547.2" y="845.3" font-size="18" stroke="#231f20" stroke-width="0.4" textLength="32.8" lengthAdjust="spacingAndGlyphs">2021</text>
<polyline points="145.8,646.9 229.3,616.5 312.9,597.5 396.5,563.3 480.0,551.9 563.5,527.9" fill="none" stroke="#8c0a25" stroke-width="3.4" stroke-linejoin="round"/>
<circle cx="145.8" cy="646.9" r="5.4" fill="#8c0a25"/><circle cx="229.3" cy="616.5" r="5.4" fill="#8c0a25"/><circle cx="312.9" cy="597.5" r="5.4" fill="#8c0a25"/><circle cx="396.5" cy="563.3" r="5.4" fill="#8c0a25"/><circle cx="480.0" cy="551.9" r="5.4" fill="#8c0a25"/><circle cx="563.5" cy="527.9" r="5.4" fill="#8c0a25"/>
<polyline points="145.8,736.8 229.3,724.8 312.9,718.4 396.5,709.6 480.0,710.8 563.5,707.7" fill="none" stroke="#fba21c" stroke-width="3.4" stroke-linejoin="round"/>
<circle cx="145.8" cy="736.8" r="5.4" fill="#fba21c"/><circle cx="229.3" cy="724.8" r="5.4" fill="#fba21c"/><circle cx="312.9" cy="718.4" r="5.4" fill="#fba21c"/><circle cx="396.5" cy="709.6" r="5.4" fill="#fba21c"/><circle cx="480.0" cy="710.8" r="5.4" fill="#fba21c"/><circle cx="563.5" cy="707.7" r="5.4" fill="#fba21c"/>
<polyline points="145.8,771.0 229.3,764.0 312.9,759.6 396.5,756.4 480.0,760.2 563.5,761.5" fill="none" stroke="#0b5b6c" stroke-width="3.4" stroke-linejoin="round"/>
<circle cx="145.8" cy="771.0" r="5.4" fill="#0b5b6c"/><circle cx="229.3" cy="764.0" r="5.4" fill="#0b5b6c"/><circle cx="312.9" cy="759.6" r="5.4" fill="#0b5b6c"/><circle cx="396.5" cy="756.4" r="5.4" fill="#0b5b6c"/><circle cx="480.0" cy="760.2" r="5.4" fill="#0b5b6c"/><circle cx="563.5" cy="761.5" r="5.4" fill="#0b5b6c"/>
<text x="133.4" y="628.0" font-size="18" stroke="#231f20" stroke-width="0.4" textLength="44.8" lengthAdjust="spacingAndGlyphs">27.6%</text>
<text x="130.8" y="724.2" font-size="18" stroke="#231f20" stroke-width="0.4" textLength="43.4" lengthAdjust="spacingAndGlyphs">13.4%</text>
<text x="134.7" y="795.3" font-size="18" stroke="#231f20" stroke-width="0.4" textLength="36.1" lengthAdjust="spacingAndGlyphs">8.0%</text>
<text x="546.7" y="751.2" font-size="18" stroke="#231f20" stroke-width="0.4" textLength="35.3" lengthAdjust="spacingAndGlyphs">9.5%</text>
<text x="529.8" y="553.4" font-size="18" font-weight="bold" textLength="55.8" lengthAdjust="spacingAndGlyphs">46.4%*</text>
<text x="538.5" y="694.3" font-size="18" font-weight="bold" textLength="51.2" lengthAdjust="spacingAndGlyphs">18.0%*</text>
<text x="375.4" y="780.6" font-size="18" font-weight="bold" textLength="51.1" lengthAdjust="spacingAndGlyphs">10.3%*</text>
<path d="M86,873.4 L126,873.4" stroke="#8c0a25" stroke-width="3.4"/><circle cx="105.8" cy="873.4" r="5.6" fill="#8c0a25"/><text x="132.0" y="879.0" font-size="17.5" stroke="#231f20" stroke-width="0.35" textLength="61.4" lengthAdjust="spacingAndGlyphs">Quebec</text>
<path d="M223.4,873.4 L263,873.4" stroke="#fba21c" stroke-width="3.4"/><circle cx="243" cy="873.4" r="5.6" fill="#fba21c"/><text x="270.8" y="879.0" font-size="17.5" stroke="#231f20" stroke-width="0.35" textLength="60.0" lengthAdjust="spacingAndGlyphs">Canada</text>
<path d="M368.6,873.4 L408,873.4" stroke="#0b5b6c" stroke-width="3.4"/><circle cx="389" cy="873.4" r="5.6" fill="#0b5b6c"/><text x="414.0" y="879.0" font-size="17.5" stroke="#231f20" stroke-width="0.35" textLength="196.6" lengthAdjust="spacingAndGlyphs">Canada outside Quebec</text>
<!-- p06_rate -->
<path d="M657.5,569.5 L657.5,461 A20,20 0 0 1 677.5,441 L1013.5,441 A20,20 0 0 1 1033.5,461 L1033.5,569.5 Z" fill="#dff1fb"/>
<path d="M657.5,569.3 L874,569.3 L874,698.2 L679.5,698.2 A22,22 0 0 1 657.5,676.2 Z" fill="#005c6e"/>
<path d="M874,569.3 L1033.5,569.3 L1033.5,676.2 A22,22 0 0 1 1011.5,698.2 L874,698.2 Z" fill="#454547"/>
<text x="759.7" y="476.0" font-size="23" font-weight="bold" fill="#0e6478" textLength="171.3" lengthAdjust="spacingAndGlyphs">English–French</text>
<text x="753.0" y="501.0" font-size="23" font-weight="bold" fill="#0e6478" textLength="184.7" lengthAdjust="spacingAndGlyphs">bilingualism rate</text>
<text x="697.0" y="530.2" font-size="19" textLength="295.6" lengthAdjust="spacingAndGlyphs">Changes in the rate of bilingualism</text>
<text x="739.5" y="554.5" font-size="19" textLength="211.8" lengthAdjust="spacingAndGlyphs">differ by <tspan font-weight="bold" fill="#0e6478">mother tongue</tspan></text>
<text x="672.4" y="597.6" font-size="18.5" font-weight="bold" fill="#fff" textLength="121.6" lengthAdjust="spacingAndGlyphs">Mother tongue</text>
<text x="899.8" y="597.6" font-size="18.5" font-weight="bold" fill="#fff" textLength="35.0" lengthAdjust="spacingAndGlyphs">2001</text>
<text x="973.5" y="597.6" font-size="18.5" font-weight="bold" fill="#fff" textLength="34.2" lengthAdjust="spacingAndGlyphs">2021</text>
<text x="672.4" y="626.0" font-size="16.5" fill="#fff" textLength="80.0" lengthAdjust="spacingAndGlyphs">French only</text>
<text x="896.0" y="626.0" font-size="16.5" fill="#fff" textLength="41.7" lengthAdjust="spacingAndGlyphs">43.4%</text>
<text x="969.0" y="626.0" font-size="16.5" fill="#fff" textLength="42.4" lengthAdjust="spacingAndGlyphs">47.6%</text>
<text x="672.4" y="654.0" font-size="16.5" fill="#fff" textLength="83.6" lengthAdjust="spacingAndGlyphs">English only</text>
<text x="900.9" y="654.0" font-size="16.5" fill="#fff" textLength="32.8" lengthAdjust="spacingAndGlyphs">9.0%</text>
<text x="973.5" y="654.0" font-size="16.5" fill="#fff" textLength="33.8" lengthAdjust="spacingAndGlyphs">9.0%</text>
<text x="672.4" y="681.7" font-size="16.5" fill="#fff" textLength="183.9" lengthAdjust="spacingAndGlyphs">Neither English nor French</text>
<text x="896.8" y="681.7" font-size="16.5" fill="#fff" textLength="40.9" lengthAdjust="spacingAndGlyphs">11.8%</text>
<text x="969.8" y="681.7" font-size="16.5" fill="#fff" textLength="41.2" lengthAdjust="spacingAndGlyphs">11.5%</text>
<text x="761.6" y="729.2" font-size="23" font-weight="bold" fill="#0e6478" textLength="170.6" lengthAdjust="spacingAndGlyphs">English–French</text>
<text x="679.8" y="755.3" font-size="23" font-weight="bold" fill="#0e6478" textLength="333.1" lengthAdjust="spacingAndGlyphs">bilingualism rate by age group</text>
<rect x="673.2" y="770.8" width="98.3" height="92.2" fill="#8e001c"/>
<rect x="794.8" y="793" width="98.7" height="70" fill="#fba21c"/>
<rect x="915.6" y="813.2" width="98.4" height="49.8" fill="#005c6e"/>
<text x="686.0" y="827.2" font-size="27.5" font-weight="bold" fill="#fff" textLength="72.6" lengthAdjust="spacingAndGlyphs">25.2 %</text>
<text x="811.3" y="838.3" font-size="27.5" font-weight="bold" textLength="64.5" lengthAdjust="spacingAndGlyphs">19.2%</text>
<text x="932.2" y="848.2" font-size="27.5" font-weight="bold" fill="#fff" textLength="64.5" lengthAdjust="spacingAndGlyphs">13.7%</text>
<text x="676.8" y="881.4" font-size="15.5" textLength="94.7" lengthAdjust="spacingAndGlyphs">15 to 24 years</text>
<text x="796.6" y="881.4" font-size="15.5" textLength="95.1" lengthAdjust="spacingAndGlyphs">25 to 64 years</text>
<text x="923.0" y="881.4" font-size="15.5" textLength="87.3" lengthAdjust="spacingAndGlyphs">65 years and</text>
<text x="949.5" y="896.0" font-size="15.5" textLength="35.0" lengthAdjust="spacingAndGlyphs">older</text>
<!-- p07_quebec -->
<text x="72.6" y="943.3" font-size="21.5" font-weight="bold" fill="#b5102c" textLength="84.2" lengthAdjust="spacingAndGlyphs">QUEBEC</text>
<text x="72.6" y="975.6" font-size="18.5" font-weight="bold" fill="#505053" stroke="#505053" stroke-width="0.35" textLength="348.8" lengthAdjust="spacingAndGlyphs">PROPORTION OF ENGLISH–FRENCH BILINGUAL PEOPLE</text>
<path d="M152.3,991.8 L358.2,991.8 L358.2,1079.1 L152.3,1079.1 Z" fill="#f2cdd3"/>
<path d="M152.3,991.8 L89.6,991.8 A18,18 0 0 0 71.6,1009.8 L71.6,1061.1 A18,18 0 0 0 89.6,1079.1 L152.3,1079.1 Z" fill="#8e001c"/>
<path d="M358.2,991.8 L392.9,991.8 A18,18 0 0 1 410.9,1009.8 L410.9,1061.1 A18,18 0 0 1 392.9,1079.1 L358.2,1079.1 Z" fill="#005c6e"/>
<text x="82.1" y="1031.0" font-size="15.5" font-weight="bold" fill="#fff" textLength="57.2" lengthAdjust="spacingAndGlyphs">MOTHER</text>
<text x="82.1" y="1048.6" font-size="15.5" font-weight="bold" fill="#fff" textLength="54.4" lengthAdjust="spacingAndGlyphs">TONGUE</text>
<text x="163.5" y="1018.0" font-size="15" stroke="#231f20" stroke-width="0.3" textLength="79.3" lengthAdjust="spacingAndGlyphs">French only</text>
<text x="369.1" y="1018.6" font-size="15.5" font-weight="bold" fill="#fff" textLength="27.7" lengthAdjust="spacingAndGlyphs">4/10</text>
<text x="163.5" y="1041.6" font-size="15" stroke="#231f20" stroke-width="0.3" textLength="82.1" lengthAdjust="spacingAndGlyphs">English only</text>
<text x="369.1" y="1042.2" font-size="15.5" font-weight="bold" fill="#fff" textLength="27.7" lengthAdjust="spacingAndGlyphs">7/10</text>
<text x="163.5" y="1065.0" font-size="15" stroke="#231f20" stroke-width="0.3" textLength="182.8" lengthAdjust="spacingAndGlyphs">Neither English nor French</text>
<text x="369.1" y="1065.6" font-size="15.5" font-weight="bold" fill="#fff" textLength="27.7" lengthAdjust="spacingAndGlyphs">5/10</text>
<path d="M358.2,1089.6 L89.6,1089.6 A18,18 0 0 0 71.6,1107.6 L71.6,1128.8 A18,18 0 0 0 89.6,1146.8 L358.2,1146.8 Z" fill="#f2cdd3"/>
<path d="M358.2,1089.6 L392.9,1089.6 A18,18 0 0 1 410.9,1107.6 L410.9,1128.8 A18,18 0 0 1 392.9,1146.8 L358.2,1146.8 Z" fill="#005c6e"/>
<text x="82.1" y="1111.8" font-size="15" stroke="#231f20" stroke-width="0.3" textLength="251.2" lengthAdjust="spacingAndGlyphs">Island of Montréal | Laval | Outaouais</text>
<text x="82.1" y="1134.6" font-size="15" stroke="#231f20" stroke-width="0.3" textLength="101.1" lengthAdjust="spacingAndGlyphs">Rest of Quebec</text>
<text x="369.1" y="1112.6" font-size="15.5" font-weight="bold" fill="#fff" textLength="27.7" lengthAdjust="spacingAndGlyphs">6/10</text>
<text x="369.1" y="1135.2" font-size="15.5" font-weight="bold" fill="#fff" textLength="27.7" lengthAdjust="spacingAndGlyphs">4/10</text>
<text x="72.6" y="1192.5" font-size="21.5" font-weight="bold" fill="#b5102c" textLength="181.4" lengthAdjust="spacingAndGlyphs">NEW BRUNSWICK</text>
<text x="72.6" y="1223.3" font-size="17.5" textLength="278.6" lengthAdjust="spacingAndGlyphs"><tspan font-weight="bold" fill="#0e6478">More than half</tspan> of the population in</text>
<text x="72.6" y="1246.1" font-size="17.5" textLength="331.3" lengthAdjust="spacingAndGlyphs">northern and southeastern New Brunswick</text>
<text x="72.6" y="1268.6" font-size="17.5" textLength="340.4" lengthAdjust="spacingAndGlyphs">could conduct a conversation in English and</text>
<text x="72.6" y="1290.7" font-size="17.5" textLength="314.1" lengthAdjust="spacingAndGlyphs">in French at the time of the 2021 Census.</text>
<!-- p08_canmap -->
<rect x="434.5" y="914.5" width="649.5" height="419.5" rx="21" ry="21" fill="#e6e7e8"/>
<polygon points="462.0,1071.6 531.7,1007.9 539.0,1021.0 545.4,1019.8 549.7,1022.0 565.0,1022.0 579.6,1024.6 582.0,1031.0 585.7,1037.7 590.0,1036.5 599.0,1044.0 611.0,1055.0 617.0,1062.5 628.0,1064.5 640.0,1067.0 643.0,1075.5 647.0,1067.0 662.0,1067.0 680.0,1066.0 690.0,1058.0 695.0,1047.0 701.6,1040.0 707.9,1045.8 710.3,1058.4 715.8,1063.2 720.5,1069.5 722.1,1062.4 726.1,1066.3 728.4,1074.2 733.9,1078.2 737.9,1074.2 739.5,1063.2 737.1,1055.3 752.1,1054.5 754.5,1061.6 750.5,1064.7 759.2,1073.4 753.7,1080.5 745.8,1084.5 737.9,1086.1 740.3,1090.0 737.1,1094.7 731.6,1094.4 718.9,1092.4 731.6,1096.6 736.3,1097.9 733.2,1107.4 720.5,1112.1 706.3,1110.1 718.9,1116.1 709.5,1126.3 704.7,1129.9 703.0,1131.0 700.5,1145.0 700.0,1152.0 709.5,1156.0 714.0,1165.0 716.0,1173.0 726.0,1172.0 735.0,1173.0 739.0,1177.0 754.0,1182.0 768.0,1184.0 777.0,1185.0 782.0,1187.4 785.8,1198.4 793.2,1207.6 804.2,1216.8 808.0,1219.0 812.5,1213.5 815.3,1207.6 808.0,1196.6 803.0,1188.0 806.0,1180.0 816.0,1165.0 813.0,1150.0 800.0,1138.0 794.7,1129.9 793.2,1124.7 788.4,1116.1 797.9,1112.9 810.5,1109.7 820.0,1112.1 829.5,1116.8 837.4,1121.6 842.0,1124.0 844.0,1131.0 850.0,1135.5 860.0,1134.7 864.0,1126.0 865.0,1118.0 864.6,1111.1 874.7,1118.4 883.9,1123.0 893.2,1127.6 902.4,1134.1 913.4,1138.7 920.8,1140.5 933.7,1138.7 939.2,1143.3 946.6,1145.1 955.8,1146.1 962.2,1152.5 959.5,1158.9 952.1,1173.7 946.6,1181.1 930.0,1188.4 915.3,1193.9 906.1,1200.4 902.4,1208.7 895.0,1221.6 891.3,1232.6 883.9,1243.7 877.5,1251.0 882.0,1247.0 895.0,1229.0 904.2,1216.0 915.3,1207.8 924.5,1204.6 930.0,1206.8 928.2,1212.4 920.8,1216.0 909.7,1219.7 905.0,1223.0 915.3,1219.7 929.1,1217.0 933.7,1222.5 941.0,1227.1 938.3,1232.6 935.5,1240.0 924.5,1245.5 919.0,1242.5 913.4,1252.0 905.0,1262.0 874.2,1262.9 869.6,1263.8 863.2,1268.4 857.6,1275.8 852.1,1276.7 842.9,1281.3 831.8,1288.7 837.4,1292.4 826.3,1297.9 812.5,1306.2 807.9,1307.1 811.0,1299.0 815.3,1290.5 816.2,1279.5 821.7,1275.8 822.6,1272.1 817.1,1268.4 805.0,1268.6 793.2,1268.4 782.1,1262.9 780.3,1257.4 767.4,1250.9 754.5,1248.2 750.0,1252.5 745.3,1255.5 726.8,1255.5 714.0,1252.8 702.0,1249.0 698.3,1247.5 680.0,1247.6 650.5,1246.8 620.0,1243.0 584.6,1237.5 551.0,1228.4 523.7,1221.1 490.0,1211.6 486.8,1207.4 481.6,1200.0 480.5,1192.6 476.3,1186.3 470.0,1180.0 474.2,1174.7 480.5,1170.5 473.7,1168.4 474.7,1161.1 477.4,1155.3 471.6,1154.7 471.6,1150.5 477.4,1143.2 483.7,1131.6 477.9,1123.2 480.5,1116.8 479.5,1112.6 481.6,1102.1 480.5,1090.5 476.3,1089.5 471.1,1091.6 467.4,1090.5 466.8,1075.8" fill="#005c6e" />
<polygon points="463.2,1182.6 466.8,1183.2 474.2,1192.6 477.4,1201.1 482.6,1209.5 481.6,1214.7 476.3,1210.5 471.1,1201.1 466.8,1192.6 463.2,1186.3" fill="#005c6e" />
<polygon points="593.2,1014.7 600.0,1004.0 608.9,996.8 620.0,1000.0 630.0,1004.2 632.1,1010.5 617.4,1016.8 608.9,1025.3 598.4,1026.3" fill="#005c6e" />
<polygon points="614.2,1025.3 621.6,1017.9 634.2,1014.7 642.6,1021.1 651.1,1020.0 655.3,1029.5 657.4,1018.9 663.7,1016.8 664.7,1033.7 668.9,1044.2 676.3,1050.5 676.3,1056.8 667.9,1056.8 661.6,1061.1 650.0,1062.0 640.5,1061.1 625.8,1058.9 615.3,1048.4 617.4,1037.9 614.2,1031.6" fill="#005c6e" />
<polygon points="674.2,1023.2 682.6,1014.7 691.1,1014.7 694.2,1033.7 686.8,1038.9 680.5,1029.5" fill="#005c6e" />
<polygon points="697.4,1014.7 713.2,1013.7 707.9,1027.4 701.6,1032.6 698.4,1025.3" fill="#005c6e" />
<polygon points="680.0,1048.0 688.0,1046.0 690.0,1054.0 683.0,1057.0" fill="#005c6e" />
<polygon points="621.6,983.2 642.6,975.8 644.7,980.0 636.3,985.3 648.9,989.5 659.5,987.4 666.8,997.9 661.6,1002.1 642.6,1004.2 639.5,997.9 632.1,993.7 627.9,987.4" fill="#005c6e" />
<polygon points="653.0,969.5 662.5,967.8 663.0,972.5 655.0,973.0" fill="#005c6e" />
<polygon points="650.0,974.7 659.5,974.0 659.0,978.5 651.0,979.0" fill="#005c6e" />
<polygon points="664.0,981.0 669.0,980.0 670.0,986.0 665.0,986.0" fill="#005c6e" />
<polygon points="691.2,957.9 692.6,950.2 696.8,947.4 701.1,950.2 706.7,954.4 710.2,959.3 715.1,963.5 713.7,967.7 710.9,973.3 706.7,974.7 701.1,971.9 697.5,968.4 698.2,964.9 694.0,962.8" fill="#005c6e" />
<polygon points="688.1,970.5 691.2,969.8 695.1,973.3 695.4,976.1 692.3,978.2 689.8,975.4" fill="#005c6e" />
<polygon points="693.3,979.3 699.6,978.9 700.0,981.1 694.7,981.4" fill="#005c6e" />
<polygon points="705.3,979.6 709.5,982.1 708.1,982.6" fill="#005c6e" />
<polygon points="680.0,967.7 683.5,969.8 685.6,975.4 684.2,977.5 680.0,976.1 677.2,971.9" fill="#005c6e" />
<polygon points="684.6,958.2 686.3,957.9 687.0,960.0 685.3,960.4" fill="#005c6e" />
<polygon points="678.6,989.1 687.0,989.1 689.1,993.0 690.5,1000.0 687.0,1004.2 682.1,1002.8 678.6,997.2" fill="#005c6e" />
<polygon points="693.3,1002.8 696.8,998.6 701.1,1001.4 702.5,1006.3 698.9,1007.7 694.7,1005.6" fill="#005c6e" />
<polygon points="699.6,942.5 706.7,936.8 712.3,932.6 717.2,928.4 724.9,925.6 734.0,924.6 741.1,926.3 741.8,931.2 739.6,936.1 742.1,938.2 741.8,944.6 739.6,949.5 738.9,955.1 736.1,958.6 739.6,963.5 740.4,968.4 736.8,975.4 730.5,978.9 738.2,981.1 740.7,983.5 738.2,987.4 733.3,988.1 725.6,988.8 719.3,989.8 711.6,989.1 710.2,987.4 713.0,984.6 716.5,982.5 714.4,979.6 713.7,977.5 716.5,976.8 721.4,979.6 723.5,978.2 719.3,976.1 717.9,973.3 713.7,971.2 714.4,968.4 719.3,966.9 722.1,966.5 717.9,964.2 715.1,960.7 711.6,957.9 710.9,955.1 716.5,953.1 719.3,955.4 717.5,952.6 722.1,948.1 724.1,943.9 722.1,944.2 720.0,948.8 715.1,951.7 709.5,951.0 703.9,948.1" fill="#005c6e" />
<polygon points="691.9,986.3 697.5,985.6 702.5,989.1 708.1,989.1 712.3,993.0 715.1,997.2 722.1,997.2 729.1,993.7 734.7,993.0 741.8,995.1 743.2,999.3 741.1,1004.2 733.3,1004.9 725.6,1007.0 717.9,1007.7 710.2,1006.3 706.7,1002.8 704.6,995.8 701.8,991.6 696.1,990.9 692.6,988.1" fill="#005c6e" />
<polygon points="718.2,1031.6 723.7,1020.5 730.0,1018.2 728.4,1028.4 733.9,1037.9 736.6,1037.1 733.9,1020.5 742.6,1016.6 747.4,1020.5 750.2,1030.0 752.1,1029.2 747.4,1017.4 755.3,1015.0 763.2,1018.9 754.5,1023.7 767.9,1025.3 782.1,1029.2 794.7,1033.9 804.2,1037.9 808.9,1042.6 805.0,1047.4 818.4,1050.5 835.8,1051.3 844.5,1054.5 844.5,1063.2 842.9,1069.5 835.8,1066.3 824.7,1064.7 820.0,1070.3 834.2,1076.6 842.1,1080.5 849.2,1087.6 848.4,1090.8 838.9,1090.0 829.5,1089.2 837.4,1094.7 848.4,1098.7 845.3,1101.1 834.2,1101.1 820.0,1097.9 810.5,1093.2 801.1,1090.8 788.4,1095.5 782.1,1094.7 779.7,1092.4 785.3,1087.6 794.7,1085.3 798.7,1082.1 793.2,1078.9 796.3,1069.5 794.7,1063.2 785.3,1056.8 775.8,1052.1 763.2,1045.0 758.4,1044.2 759.2,1047.4 752.1,1050.5 737.9,1050.5 725.3,1048.9 722.1,1045.8 727.6,1043.4 720.5,1041.1" fill="#005c6e" />
<polygon points="775.8,1061.6 782.1,1060.0 785.3,1064.7 783.7,1069.5 777.4,1070.3" fill="#005c6e" />
<polygon points="741.8,1090.8 748.9,1094.7 755.3,1094.7 763.2,1102.6 772.6,1104.2 769.5,1108.9 761.6,1107.4 755.3,1110.5 748.9,1115.3 745.8,1110.5 739.5,1110.5 742.6,1102.6" fill="#005c6e" />
<polygon points="757.6,1116.8 767.1,1112.9 766.3,1118.4 760.8,1121.6" fill="#005c6e" />
<polygon points="778.2,1116.8 782.1,1117.6 782.1,1123.2 778.9,1122.4" fill="#005c6e" />
<polygon points="783.7,1105.0 787.6,1105.3 787.3,1107.4 784.0,1107.1" fill="#005c6e" />
<polygon points="944.7,1228.9 955.8,1227.1 970.5,1225.3 963.2,1232.6 952.1,1240.0 955.8,1247.4 946.6,1254.7 939.2,1247.4 942.9,1238.2 946.6,1232.6" fill="#005c6e" />
<polygon points="965.9,1208.7 968.7,1213.3 975.1,1211.4 977.0,1215.1 970.5,1221.6 965.0,1220.7 964.1,1216.1" fill="#005c6e" />
<polygon points="940.1,1220.7 946.6,1222.5 952.1,1220.7 957.6,1217.9 955.8,1221.6 946.6,1225.3 941.0,1223.4" fill="#005c6e" />
<polygon points="966.8,1157.1 964.1,1164.5 966.8,1177.4 970.5,1188.4 965.9,1190.3 970.5,1192.1 970.5,1198.6 979.7,1192.1 988.9,1188.4 998.2,1184.7 1000.9,1190.3 1003.7,1181.1 1002.8,1173.7 1003.7,1170.0 996.3,1171.8 992.6,1166.3 985.3,1171.8 977.9,1170.0 972.4,1173.7 969.6,1162.6" fill="#005c6e" />
<polygon points="1007.4,1172.8 1010.1,1177.4 1013.8,1173.7 1015.7,1179.2 1012.9,1183.8 1008.3,1184.7 1006.5,1179.2" fill="#005c6e" />
<ellipse cx="933.7" cy="1195.8" rx="10" ry="2.3" fill="#005c6e" transform="rotate(-4 933.7 1195.8)"/>
<path d="M0,0" stroke="#e6e7e8" stroke-width="2" fill="none" stroke-linecap="round"/>
<ellipse cx="930.3" cy="1148.5" rx="7" ry="1.7" fill="#e6e7e8" transform="rotate(-62 930.3 1148.5)"/>
<path d="M466.8,1075.8 Q484,1090 502.6,1101.1 T539.5,1114.7 L558.9,1124.7 Q585,1132 614,1137.9 T657.5,1143.5 L701,1144.9" stroke="#e9f1f3" stroke-width="0.9" fill="none"/>
<path d="M539.2,1021 L527.8,1035.1 L533.9,1042.1 L530.4,1049.1 L534,1052.5 L527.8,1057.9 L531.3,1066.7 L526.9,1082.5 L523.4,1090.4 L529,1091.5 L528.9,1101.1 L539.5,1107.4 L539.5,1114.7" stroke="#e9f1f3" stroke-width="0.9" fill="none"/>
<path d="M598.9,1043.9 L591.8,1052.6 L600.6,1063.2 L607.6,1077.2 L623.4,1087.7 L628.7,1094.7 L663.2,1104 L657.5,1143.5" stroke="#e9f1f3" stroke-width="0.9" fill="none"/>
<path d="M558.9,1124.7 L531.1,1174.2 L537.4,1186.3 L540.5,1195.8 L547.9,1205.3 L551,1213.7 L554.2,1217.9 L551,1228.4" stroke="#e9f1f3" stroke-width="0.9" fill="none"/>
<path d="M614,1137.9 L584.6,1237.5 M657.5,1143.5 L650.5,1246.8" stroke="#e9f1f3" stroke-width="0.9" fill="none"/>
<path d="M736.8,1174.5 L698.8,1213.2 L698.3,1247" stroke="#e9f1f3" stroke-width="0.9" fill="none"/>
<path d="M812.5,1214.1 L815.3,1235.3 L822.6,1251.8 L835.5,1259.2 L852.1,1262 L863.2,1259.2 L867.8,1260.1 L869.6,1263.8" stroke="#e9f1f3" stroke-width="0.9" fill="none"/>
<path d="M864.6,1111.1 L871,1120.3 L878,1124 L880.3,1131.3 L891.3,1136.8 L897.8,1147.9 L893.2,1155.3 L880.3,1158.9 L875.7,1163.6 L880.3,1170 L889.5,1173.7 L887.6,1178.3 L895,1175.5 L907.9,1174.6 L910.7,1181.1 L913.4,1175.5 L924.5,1172.8 L939.2,1164.5 L952.1,1159.9 L959.5,1158.9" stroke="#e9f1f3" stroke-width="0.9" fill="none"/>
<path d="M904.5,1224 Q899,1232 897,1240 T892,1250" stroke="#e6e7e8" stroke-width="1.4" fill="none"/>
<path d="M954,1128.9 L925.4,1146.4 M979.4,1146.1 L979.4,1173.7 M986.2,1229.9 L954,1221.2 M924.5,1232.3 L913.4,1251 M948.4,1246.5 L955.8,1258.4" stroke="#231f20" stroke-width="1"/>
<circle cx="891.2" cy="997.8" r="42.2" fill="#fba21c"/>
<text x="857.8" y="1009.0" font-size="28" font-weight="bold" textLength="66.0" lengthAdjust="spacingAndGlyphs">18.0%</text>
<text x="946.8" y="1009.0" font-size="26.5" font-weight="bold" fill="#414042" stroke="#414042" stroke-width="0.5" textLength="75.8" lengthAdjust="spacingAndGlyphs">CANADA</text>
<circle cx="499.2" cy="1048.8" r="22.6" fill="#fba21c"/><text x="481.4" y="1054.4" font-size="15.5" font-weight="bold" textLength="35.5" lengthAdjust="spacingAndGlyphs">14.2%</text>
<circle cx="577.4" cy="1070.6" r="22.6" fill="#fba21c"/><text x="559.6" y="1076.2" font-size="15.5" font-weight="bold" textLength="35.5" lengthAdjust="spacingAndGlyphs">10.6%</text>
<circle cx="684.2" cy="1084.2" r="22.6" fill="#fba21c"/><text x="669.5" y="1089.8" font-size="15.5" font-weight="bold" textLength="29.5" lengthAdjust="spacingAndGlyphs">3.8%</text>
<circle cx="506.5" cy="1137" r="22.6" fill="#fba21c"/><text x="491.8" y="1142.6" font-size="15.5" font-weight="bold" textLength="29.5" lengthAdjust="spacingAndGlyphs">6.6%</text>
<circle cx="571.4" cy="1167.4" r="22.6" fill="#fba21c"/><text x="558.1" y="1173.0" font-size="15.5" font-weight="bold" textLength="26.5" lengthAdjust="spacingAndGlyphs">6.1%</text>
<circle cx="626.1" cy="1191.2" r="22.6" fill="#fba21c"/><text x="611.4" y="1196.8" font-size="15.5" font-weight="bold" textLength="29.5" lengthAdjust="spacingAndGlyphs">4.7%</text>
<circle cx="684.2" cy="1171.6" r="22.6" fill="#fba21c"/><text x="669.5" y="1177.2" font-size="15.5" font-weight="bold" textLength="29.5" lengthAdjust="spacingAndGlyphs">8.3%</text>
<circle cx="759.6" cy="1201.7" r="22.6" fill="#fba21c"/><text x="741.9" y="1207.3" font-size="15.5" font-weight="bold" textLength="35.5" lengthAdjust="spacingAndGlyphs">10.8%</text>
<circle cx="849.6" cy="1183.7" r="22.6" fill="#fba21c"/><text x="831.9" y="1189.3" font-size="15.5" font-weight="bold" textLength="35.5" lengthAdjust="spacingAndGlyphs">46.4%</text>
<circle cx="977.5" cy="1102.4" r="22.6" fill="#fba21c"/><text x="964.2" y="1108.0" font-size="15.5" font-weight="bold" textLength="26.5" lengthAdjust="spacingAndGlyphs">5.1%</text>
<circle cx="897" cy="1267.4" r="22.6" fill="#fba21c"/><text x="879.2" y="1273.0" font-size="15.5" font-weight="bold" textLength="35.5" lengthAdjust="spacingAndGlyphs">34.0%</text>
<circle cx="960.1" cy="1281" r="22.6" fill="#fba21c"/><text x="942.4" y="1286.6" font-size="15.5" font-weight="bold" textLength="35.5" lengthAdjust="spacingAndGlyphs">10.3%</text>
<circle cx="1008.4" cy="1231.7" r="22.6" fill="#fba21c"/><text x="990.6" y="1237.3" font-size="15.5" font-weight="bold" textLength="35.5" lengthAdjust="spacingAndGlyphs">12.7%</text>
<text x="491.3" y="1088.2" font-size="14.5" fill="#fff" textLength="16.9" lengthAdjust="spacingAndGlyphs">Y.T.</text>
<text x="559.7" y="1108.4" font-size="14.5" fill="#fff" textLength="37.8" lengthAdjust="spacingAndGlyphs">N.W.T.</text>
<text x="673.0" y="1120.2" font-size="14.5" fill="#fff" textLength="23.8" lengthAdjust="spacingAndGlyphs">Nvt.</text>
<text x="495.3" y="1175.8" font-size="14.5" fill="#fff" textLength="21.9" lengthAdjust="spacingAndGlyphs">B.C.</text>
<text x="557.9" y="1204.7" font-size="14.5" fill="#fff" textLength="27.5" lengthAdjust="spacingAndGlyphs">Alta.</text>
<text x="612.6" y="1227.7" font-size="14.5" fill="#fff" textLength="30.1" lengthAdjust="spacingAndGlyphs">Sask.</text>
<text x="670.7" y="1207.5" font-size="14.5" fill="#fff" textLength="27.0" lengthAdjust="spacingAndGlyphs">Man.</text>
<text x="748.9" y="1238.8" font-size="14.5" fill="#fff" textLength="25.5" lengthAdjust="spacingAndGlyphs">Ont.</text>
<text x="836.4" y="1220.7" font-size="14.5" fill="#fff" textLength="27.3" lengthAdjust="spacingAndGlyphs">Que.</text>
<text x="969.6" y="1140.7" font-size="14.5" textLength="22.1" lengthAdjust="spacingAndGlyphs">N.L.</text>
<text x="885.9" y="1303.7" font-size="14.5" textLength="24.0" lengthAdjust="spacingAndGlyphs">N.B.</text>
<text x="950.0" y="1318.8" font-size="14.5" textLength="22.7" lengthAdjust="spacingAndGlyphs">N.S.</text>
<text x="996.4" y="1270.5" font-size="14.5" textLength="28.8" lengthAdjust="spacingAndGlyphs">P.E.I.</text>
<text x="464.7" y="1288.0" font-size="16.5" font-weight="bold" fill="#4f4f52" stroke="#4f4f52" stroke-width="0.35" textLength="286.3" lengthAdjust="spacingAndGlyphs">ENGLISH–FRENCH BILINGUALISM IN CANADA</text>
<text x="492.0" y="1310.3" font-size="16.5" font-weight="bold" fill="#4f4f52" stroke="#4f4f52" stroke-width="0.35" textLength="231.0" lengthAdjust="spacingAndGlyphs">BY PROVINCE OR TERRITORY IN 2021</text>
<!-- p09_ontario_text -->
<text x="436.0" y="1388.3" font-size="21" font-weight="bold" fill="#b5102c" textLength="90.0" lengthAdjust="spacingAndGlyphs">ONTARIO</text>
<text x="436.0" y="1420.7" font-size="17.2" textLength="339.0" lengthAdjust="spacingAndGlyphs"><tspan font-weight="bold" fill="#0e6478">In Ontario, 1.5 million people</tspan> were able to</text>
<text x="436.0" y="1442.7" font-size="17.2" textLength="293.0" lengthAdjust="spacingAndGlyphs">conduct a conversation in English and</text>
<text x="436.0" y="1465.0" font-size="17.2" textLength="323.3" lengthAdjust="spacingAndGlyphs">French, mainly in the economic regions of</text>
<text x="436.0" y="1487.7" font-size="17.2" textLength="348.3" lengthAdjust="spacingAndGlyphs"><tspan font-weight="bold" fill="#0e6478">Ottawa</tspan> (495,000), <tspan font-weight="bold" fill="#0e6478">Toronto</tspan> (482,000) and the</text>
<text x="436.0" y="1510.0" font-size="17.2" textLength="162.3" lengthAdjust="spacingAndGlyphs"><tspan font-weight="bold" fill="#0e6478">Northeast</tspan> (160,000).</text>
<text x="436.0" y="1538.3" font-size="17.2" textLength="315.0" lengthAdjust="spacingAndGlyphs">Among those whose mother tongue was</text>
<text x="436.0" y="1560.7" font-size="17.2" textLength="332.3" lengthAdjust="spacingAndGlyphs">not French, the bilingualism rate was <tspan font-weight="bold" fill="#0e6478">7.4%</tspan>.</text>
<text x="434.0" y="1593.5" font-size="17.2" textLength="375.2" lengthAdjust="spacingAndGlyphs"><tspan font-weight="bold" fill="#0e6478">Nearly 9 in 10 Ontarians</tspan> whose mother tongue</text>
<text x="434.0" y="1621.3" font-size="17.2" textLength="366.3" lengthAdjust="spacingAndGlyphs">was French were bilingual (English and French).</text>
<text x="434.0" y="1648.8" font-size="17.2" textLength="422.0" lengthAdjust="spacingAndGlyphs"><tspan font-weight="bold" fill="#0e6478">Two-thirds</tspan> of English–French bilingual people did not</text>
<text x="434.0" y="1671.0" font-size="17.2" textLength="280.8" lengthAdjust="spacingAndGlyphs">have French as their mother tongue.</text>
<!-- p10_footer -->
<text x="50.0" y="1711.4" font-size="13.2" textLength="782.0" lengthAdjust="spacingAndGlyphs">For more information, please consult <tspan font-style="italic">The Daily</tspan>: https:<tspan font-weight="normal">//www150.statcan.gc.ca/n1/daily-quotidien/220817/dq220817a-eng.htm</tspan></text>
<text x="51.4" y="1728.8" font-size="13.2" textLength="330.6" lengthAdjust="spacingAndGlyphs">Source: Statistics Canada, Census of Population, 2021.</text>
<text x="467.5" y="1745.7" font-size="13.2" textLength="572.5" lengthAdjust="spacingAndGlyphs">© Her Majesty the Queen in Right of Canada, as represented by the Minister of Industry, 2022</text>
<rect x="50.5" y="1819" width="12.7" height="24.4" fill="#ea0b2a"/><rect x="87.4" y="1819" width="12.6" height="24.4" fill="#ea0b2a"/>
<path d="M0,-10.5 L1.6,-7.3 L3.5,-8.2 L2.7,-3.4 L5.2,-5.8 L5.7,-4.5 L8.6,-5 L7.6,-1.9 L8.9,-1.2 L4.4,2.6 L5,4.4 L0.45,3.8 L0.55,9.5 L-0.55,9.5 L-0.45,3.8 L-5,4.4 L-4.4,2.6 L-8.9,-1.2 L-7.6,-1.9 L-8.6,-5 L-5.7,-4.5 L-5.2,-5.8 L-2.7,-3.4 L-3.5,-8.2 L-1.6,-7.3 Z" transform="translate(75.3,1831.8) scale(1.05)" fill="#ea0b2a"/>
<text x="121.6" y="1829.5" font-size="15.8" fill="#333" textLength="60.0" lengthAdjust="spacingAndGlyphs">Statistics</text>
<text x="121.6" y="1843.4" font-size="15.8" fill="#333" textLength="52.1" lengthAdjust="spacingAndGlyphs">Canada</text>
<text x="204.0" y="1829.5" font-size="15.8" fill="#333" textLength="69.7" lengthAdjust="spacingAndGlyphs">Statistique</text>
<text x="204.0" y="1843.4" font-size="15.8" fill="#333" textLength="51.8" lengthAdjust="spacingAndGlyphs">Canada</text>
<text x="461.5" y="1833.0" font-size="17.5" font-weight="bold" fill="#333" textLength="230.3" lengthAdjust="spacingAndGlyphs">www.statcan.gc.ca/census</text>
<text x="919.3" y="1842.1" font-size="58" font-family="Liberation Serif" fill="#2b2926" stroke="#2b2926" stroke-width="1.0" textLength="170.4" lengthAdjust="spacingAndGlyphs">Canada</text>
<rect x="1062.1" y="1803.8" width="6.4" height="12" fill="#ea0b2a"/><rect x="1081.4" y="1803.8" width="5.8" height="12" fill="#ea0b2a"/><path d="M0,-10.5 L1.6,-7.3 L3.5,-8.2 L2.7,-3.4 L5.2,-5.8 L5.7,-4.5 L8.6,-5 L7.6,-1.9 L8.9,-1.2 L4.4,2.6 L5,4.4 L0.45,3.8 L0.55,9.5 L-0.55,9.5 L-0.45,3.8 L-5,4.4 L-4.4,2.6 L-8.9,-1.2 L-7.6,-1.9 L-8.6,-5 L-5.7,-4.5 L-5.2,-5.8 L-2.7,-3.4 L-3.5,-8.2 L-1.6,-7.3 Z" transform="translate(1075,1810) scale(0.5)" fill="#ea0b2a"/>
<!-- p11_nbmap -->
<polygon points="141.1,1488.1 193.3,1474.0 199.5,1464.4 182.8,1425.3 232.8,1410.0 255.1,1436.3 306.8,1420.5 304.2,1433.7 299.8,1444.2 306.0,1447.0 312.1,1451.2 312.1,1454.7 267.4,1489.8 255.1,1511.8 280.5,1519.7 291.0,1553.9 301.6,1550.0 301.6,1539.5 316.0,1534.2 327.9,1552.6 327.9,1556.6 320.0,1569.7 304.2,1578.9 288.4,1588.2 270.0,1597.4 256.8,1603.9 246.3,1603.9 235.8,1610.5 218.7,1613.2 217.4,1619.7 210.8,1614.5 198.9,1615.8 191.1,1623.7 187.1,1611.8 181.8,1615.8 172.6,1606.6 163.4,1614.5 156.8,1602.6 156.8,1584.2 159.5,1581.6 158.2,1568.4 148.9,1569.7 139.7,1565.8 138.4,1550.0 141.0,1542.0" fill="#fba21c" />
<polygon points="110.0,1377.5 124.9,1377.5 124.9,1371.4 153.0,1371.9 153.9,1377.5 160.0,1381.0 166.1,1384.6 173.0,1382.5 181.1,1380.2 189.8,1381.1 193.3,1374.0 205.6,1372.3 214.0,1369.5 222.3,1366.7 226.7,1373.2 236.0,1376.0 246.3,1379.3 256.0,1383.7 258.5,1390.0 260.4,1395.1 261.5,1401.0 263.9,1405.6 267.0,1402.0 270.9,1401.2 283.2,1394.2 295.4,1388.1 303.0,1390.0 311.2,1390.7 318.2,1386.3 322.0,1381.0 325.3,1377.5 328.8,1370.5 328.0,1378.0 325.3,1386.3 320.0,1392.0 314.7,1398.6 311.0,1405.0 307.7,1412.6 306.8,1420.5 255.1,1436.3 232.8,1410.0 182.8,1425.3 199.5,1464.4 193.3,1474.0 141.1,1488.1 141.1,1454.7 142.5,1450.4 137.2,1447.7 130.2,1437.2 116.1,1424.9 108.2,1424.9 106.5,1429.3 95.1,1431.9 86.0,1435.5 77.5,1438.1 71.4,1433.7 70.5,1428.4 82.0,1425.0 95.1,1420.5 108.8,1408.2 109.1,1391.6" fill="#8e001c" />
<polygon points="312.1,1454.7 309.0,1461.0 306.0,1468.8 310.0,1476.0 313.0,1482.8 316.0,1490.0 320.0,1496.8 323.0,1503.0 325.3,1509.1 329.6,1516.1 327.0,1520.5 339.3,1524.9 348.9,1525.0 372.6,1525.8 373.9,1530.3 365.0,1536.0 356.8,1542.1 349.0,1546.5 343.7,1550.0 338.0,1557.0 333.2,1563.2 327.9,1552.6 316.0,1534.2 301.6,1539.5 301.6,1550.0 291.0,1553.9 280.5,1519.7 255.1,1511.8 267.4,1489.8" fill="#005c6e" />
<polygon points="187.0,1629.0 190.5,1628.0 191.0,1639.5 187.5,1638.0" fill="#fba21c" />
<polygon points="196.3,1643.4 202.9,1657.9 196.0,1660.0 189.7,1659.2" fill="#fba21c" />
<path d="M302,1446 L293,1449 L283,1453 L272,1456.5 L262,1461 L254.5,1462.5 M283,1453 L284,1457.5 M272,1456.5 L268,1459.5 M262,1461 L263,1465.5" stroke="#fff" stroke-width="2.2" fill="none" stroke-linecap="round"/>
<path d="M306,1428 L300,1431 M305,1438 L298,1442" stroke="#fff" stroke-width="1.6" stroke-linecap="round"/>
<path d="M307,1470 L312,1474 M309,1487 L313,1484 M313,1503 L320,1501 M321,1515 L327,1513" stroke="#fff" stroke-width="1.8" stroke-linecap="round"/>
<path d="M318,1392 L313,1390.5 M321,1384 L316,1382" stroke="#fff" stroke-width="1.5" stroke-linecap="round"/>
<path d="M233.5,1552.5 L238,1546 L241,1538 L246,1533 L250,1533.5 L248,1539 L246,1544 L242,1548 L238,1553 Z" fill="#fff"/>
<path d="M109.1,1391.6 L182.8,1425.3 L238.1,1407 L250.4,1386.3 L256,1383.7 M145.4,1409.1 L146,1441.6 L142.5,1450.4 M182.8,1425.3 L199.5,1464.4 L217,1502.1 L253.9,1512.3" stroke="#fff" stroke-width="1" fill="none"/>
<path d="M193.3,1474 L155.5,1543.4 M234.5,1507.9 L191,1582.9 M254.2,1511.8 L212.1,1581.6 M283.2,1534.2 L218.7,1596 M296.3,1575 L218.7,1606.6 M291,1553.9 L298.9,1578.9 M156.8,1583.7 L217.9,1583.7 L218.7,1613 M280.5,1519.7 L327,1517" stroke="#fff" stroke-width="0.7" fill="none" opacity="0.85"/>
<circle cx="276.8" cy="1347.4" r="32.2" fill="#8e001c"/><text x="255.5" y="1354.8" font-size="17.5" font-weight="bold" fill="#fff" textLength="43.0" lengthAdjust="spacingAndGlyphs">52.2%</text>
<text x="320.7" y="1352.0" font-size="14.8" textLength="36.1" lengthAdjust="spacingAndGlyphs">North</text>
<circle cx="361.8" cy="1445.6" r="32.2" fill="#005c6e"/><text x="340.2" y="1453.0" font-size="17.5" font-weight="bold" fill="#fff" textLength="43.8" lengthAdjust="spacingAndGlyphs">53.3%</text>
<text x="328.8" y="1496.8" font-size="14.8" textLength="64.0" lengthAdjust="spacingAndGlyphs">Southeast</text>
<circle cx="298.2" cy="1628.2" r="32.2" fill="#fba21c"/><text x="277.9" y="1635.5" font-size="17.5" font-weight="bold" textLength="40.8" lengthAdjust="spacingAndGlyphs">18.3%</text>
<text x="337.5" y="1624.6" font-size="14.8" textLength="69.2" lengthAdjust="spacingAndGlyphs">Rest of the</text>
<text x="337.5" y="1639.6" font-size="14.8" textLength="54.5" lengthAdjust="spacingAndGlyphs">province</text>
<!-- p12_ontmap -->
<polygon points="866.3,1370.1 881.3,1380.3 887.1,1387.5 907.4,1391.8 911.7,1397.6 930.5,1396.2 947.9,1399.1 947.9,1412.1 953.7,1426.6 953.7,1441.1 965.3,1454.1 953.7,1459.9 945.0,1468.6 937.8,1475.8 929.1,1483.0 919.0,1475.8 904.5,1474.3 903.9,1487.4 905.1,1509.1 921.8,1509.1 923.3,1527.9 924.7,1551.1 916.1,1548.2 907.4,1536.6 890.0,1533.7 878.4,1539.5 870.0,1547.0 863.9,1552.5 837.9,1552.5 820.5,1542.4 806.1,1539.5 797.4,1527.9 788.7,1522.1 790.1,1484.5 791.6,1452.6" fill="#808080" />
<polygon points="1031.0,1570.9 1044.2,1571.6 1054.7,1574.2 1060.0,1580.8 1060.7,1589.3 1069.2,1597.9 1072.5,1603.2 1069.2,1607.1 1063.9,1611.0 1061.3,1616.3 1054.7,1615.0 1050.8,1617.6 1040.3,1618.9 1031.0,1624.2 1025.8,1630.8 1023.2,1634.7 1021.8,1637.4 1031.0,1638.7 1035.0,1636.7 1037.6,1642.6 1028.4,1646.6 1017.9,1651.8 1012.6,1654.5 1003.4,1657.1 995.5,1663.7 986.3,1670.3 982.4,1674.2 974.5,1672.9 973.8,1667.6 979.7,1665.0 982.4,1661.1 982.4,1653.2 990.3,1643.9 991.6,1632.1 990.3,1621.6 992.9,1613.7 990.9,1605.8 986.3,1601.8 992.9,1603.2 999.5,1609.7 1004.7,1611.1 1012.6,1612.4 1013.9,1605.8 1010.0,1604.5 1012.6,1598.6 1017.9,1592.6 1025.8,1588.0 1033.7,1586.1 1040.3,1585.4 1042.2,1579.5 1044.2,1578.2 1041.6,1573.6" fill="#808080" />
<polygon points="965.3,1454.1 953.7,1459.9 945.0,1468.6 937.8,1475.8 929.1,1483.0 919.0,1475.8 904.5,1474.3 903.9,1487.4 905.1,1509.1 921.8,1509.1 923.3,1527.9 924.7,1551.1 932.0,1556.9 937.8,1568.4 937.8,1580.0 947.9,1581.5 947.9,1585.8 960.0,1578.2 973.0,1581.0 986.3,1583.4 996.8,1584.7 1003.4,1591.3 1010.0,1596.6 1012.6,1598.6 1017.9,1592.6 1025.8,1588.0 1033.7,1586.1 1040.3,1585.4 1042.2,1579.5 1044.2,1578.2 1041.6,1573.6 1031.0,1570.9 1023.2,1567.6 1015.3,1559.7 1010.0,1547.9 1005.8,1522.1 998.6,1487.4 994.2,1467.1 991.3,1471.5 982.6,1464.2" fill="#fba21c" />
<polygon points="1060.7,1589.3 1066.6,1579.5 1075.8,1578.2 1083.0,1572.2 1091.6,1570.9 1092.9,1576.2 1094.2,1578.8 1089.6,1582.1 1083.7,1590.0 1077.1,1599.9 1072.5,1603.2 1069.2,1597.9" fill="#8e001c" />
<polygon points="1027.8,1611.0 1031.0,1616.3 1036.3,1616.3 1040.3,1618.9 1031.0,1624.2 1025.8,1630.8 1023.2,1634.7 1016.6,1632.8 1017.9,1628.2 1015.3,1626.2 1021.8,1621.6 1023.2,1613.7" fill="#005c6e" />
<polygon points="958.0,1591.0 973.2,1588.7 983.7,1586.7 985.0,1592.6 979.7,1594.6 967.9,1592.6" fill="#fba21c" />
<path d="M1037,1586 L1051,1614 M1022,1590 L1030,1612 M1004.7,1611.1 L1009,1620 L1002,1626 L1006,1640 L1012.6,1654.5 M1006,1640 L992,1643 M1016,1632 L1010,1640 M991,1622 L1003,1620" stroke="#676767" stroke-width="0.6" fill="none"/>
<path d="M1011.6,1471.5 L977.4,1537.2 M1061.7,1549.6 L1082.4,1580.8 M1060.2,1641.4 L1030.4,1621.6" stroke="#231f20" stroke-width="1"/>
<circle cx="1013.6" cy="1467.1" r="5" fill="#fba21c"/><circle cx="1061.7" cy="1549.6" r="5" fill="#8e001c"/><circle cx="1060.2" cy="1641.4" r="5" fill="#005c6e"/>
<text x="1026.6" y="1471.5" font-size="14.2" textLength="59.7" lengthAdjust="spacingAndGlyphs">Northeast</text>
<text x="1039.7" y="1539.5" font-size="14.2" textLength="43.7" lengthAdjust="spacingAndGlyphs">Ottawa</text>
<text x="1036.8" y="1659.6" font-size="14.2" textLength="47.2" lengthAdjust="spacingAndGlyphs">Toronto</text>
</svg>
</body></html>
